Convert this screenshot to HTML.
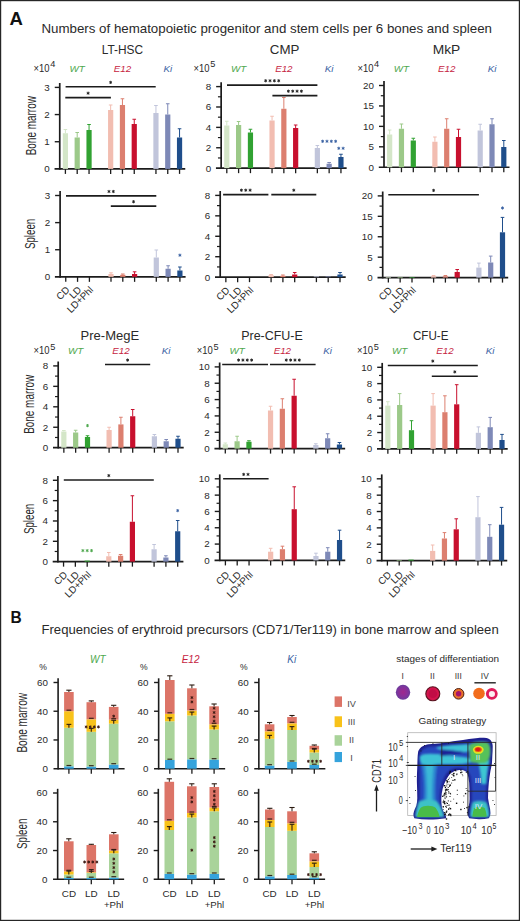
<!DOCTYPE html><html><head><meta charset="utf-8"><style>html,body{margin:0;padding:0;background:#fff;overflow:hidden;}#w{position:relative;width:520px;height:921px;overflow:hidden;background:#fff;}svg{position:absolute;left:0;top:0;}text{font-family:"Liberation Sans", sans-serif;}</style></head><body><div id="w">
<svg width="520" height="921" viewBox="0 0 520 921">
<rect x="0" y="0" width="520" height="921" fill="#fff"/>
<text x="9.4" y="25.1" font-size="17.6" fill="#111" text-anchor="start" font-weight="bold" textLength="13.4" lengthAdjust="spacingAndGlyphs" >A</text>
<text x="41.4" y="33.3" font-size="13.4" fill="#2a2a2a" text-anchor="start" textLength="450.6" lengthAdjust="spacingAndGlyphs" >Numbers of hematopoietic progenitor and stem cells per 6 bones and spleen</text>
<text x="101.7" y="54.0" font-size="12.4" fill="#2a2a2a" text-anchor="start" textLength="41.4" lengthAdjust="spacingAndGlyphs" >LT-HSC</text>
<text x="269.8" y="54.2" font-size="12.4" fill="#2a2a2a" text-anchor="start" textLength="29.6" lengthAdjust="spacingAndGlyphs" >CMP</text>
<text x="432.7" y="54.0" font-size="12.4" fill="#2a2a2a" text-anchor="start" textLength="27.6" lengthAdjust="spacingAndGlyphs" >MkP</text>
<line x1="59.75" y1="83.0" x2="59.75" y2="169.70000000000002" stroke="#1c1c1c" stroke-width="1.7" />
<line x1="54.55" y1="168.9" x2="185.25" y2="168.9" stroke="#1c1c1c" stroke-width="1.7" />
<text x="49.75" y="172.3" font-size="9.8" fill="#2a2a2a" text-anchor="end" >0</text>
<line x1="54.75" y1="141.73333333333335" x2="59.75" y2="141.73333333333335" stroke="#1c1c1c" stroke-width="1.4" />
<text x="49.75" y="145.13333333333335" font-size="9.8" fill="#2a2a2a" text-anchor="end" >1</text>
<line x1="54.75" y1="114.56666666666668" x2="59.75" y2="114.56666666666668" stroke="#1c1c1c" stroke-width="1.4" />
<text x="49.75" y="117.96666666666668" font-size="9.8" fill="#2a2a2a" text-anchor="end" >2</text>
<line x1="54.75" y1="87.4" x2="59.75" y2="87.4" stroke="#1c1c1c" stroke-width="1.4" />
<text x="49.75" y="90.80000000000001" font-size="9.8" fill="#2a2a2a" text-anchor="end" >3</text>
<line x1="65.4" y1="168.9" x2="65.4" y2="173.9" stroke="#1c1c1c" stroke-width="1.3" />
<line x1="77.2" y1="168.9" x2="77.2" y2="173.9" stroke="#1c1c1c" stroke-width="1.3" />
<line x1="89.05" y1="168.9" x2="89.05" y2="173.9" stroke="#1c1c1c" stroke-width="1.3" />
<line x1="110.65" y1="168.9" x2="110.65" y2="173.9" stroke="#1c1c1c" stroke-width="1.3" />
<line x1="122.45" y1="168.9" x2="122.45" y2="173.9" stroke="#1c1c1c" stroke-width="1.3" />
<line x1="134.25" y1="168.9" x2="134.25" y2="173.9" stroke="#1c1c1c" stroke-width="1.3" />
<line x1="155.95" y1="168.9" x2="155.95" y2="173.9" stroke="#1c1c1c" stroke-width="1.3" />
<line x1="167.75" y1="168.9" x2="167.75" y2="173.9" stroke="#1c1c1c" stroke-width="1.3" />
<line x1="179.55" y1="168.9" x2="179.55" y2="173.9" stroke="#1c1c1c" stroke-width="1.3" />
<text x="33.6" y="71.8" font-size="10.0" fill="#2a2a2a" text-anchor="start" textLength="16.0" lengthAdjust="spacingAndGlyphs" >×10</text>
<text x="50.3" y="67.3" font-size="9.2" fill="#2a2a2a" text-anchor="start" >4</text>
<text x="77.2" y="72.0" font-size="9.8" fill="#4ea84e" text-anchor="middle" font-style="italic" >WT</text>
<text x="122.45" y="72.0" font-size="9.8" fill="#c6243f" text-anchor="middle" font-style="italic" >E12</text>
<text x="167.75" y="72.0" font-size="9.8" fill="#3b62a3" text-anchor="middle" font-style="italic" >Ki</text>
<text x="35.8" y="125.7" font-size="14.6" fill="#2a2a2a" text-anchor="middle" textLength="59.2" lengthAdjust="spacingAndGlyphs" transform="rotate(-90 35.8 125.7)">Bone marrow</text>
<line x1="65.4" y1="129.5" x2="65.4" y2="133.25" stroke="#d4e6c8" stroke-width="1.0" />
<line x1="63.60000000000001" y1="129.5" x2="67.2" y2="129.5" stroke="#d4e6c8" stroke-width="1.0" />
<rect x="62.80" y="133.25" width="5.20" height="35.65" fill="#d4e6c8" />
<line x1="77.2" y1="132.5" x2="77.2" y2="137.5" stroke="#9cc989" stroke-width="1.0" />
<line x1="75.4" y1="132.5" x2="79.0" y2="132.5" stroke="#9cc989" stroke-width="1.0" />
<rect x="74.60" y="137.50" width="5.20" height="31.40" fill="#9cc989" />
<line x1="89.05" y1="124.5" x2="89.05" y2="130" stroke="#31a232" stroke-width="1.0" />
<line x1="87.25" y1="124.5" x2="90.85" y2="124.5" stroke="#31a232" stroke-width="1.0" />
<rect x="86.45" y="130.00" width="5.20" height="38.90" fill="#31a232" />
<line x1="110.65" y1="105" x2="110.65" y2="110" stroke="#f2bdb1" stroke-width="1.0" />
<line x1="108.85000000000001" y1="105" x2="112.45" y2="105" stroke="#f2bdb1" stroke-width="1.0" />
<rect x="108.05" y="110.00" width="5.20" height="58.90" fill="#f2bdb1" />
<line x1="122.45" y1="98.75" x2="122.45" y2="105" stroke="#dc7f6f" stroke-width="1.0" />
<line x1="120.65" y1="98.75" x2="124.25" y2="98.75" stroke="#dc7f6f" stroke-width="1.0" />
<rect x="119.85" y="105.00" width="5.20" height="63.90" fill="#dc7f6f" />
<line x1="134.25" y1="119.25" x2="134.25" y2="124" stroke="#c8102e" stroke-width="1.0" />
<line x1="132.45" y1="119.25" x2="136.05" y2="119.25" stroke="#c8102e" stroke-width="1.0" />
<rect x="131.65" y="124.00" width="5.20" height="44.90" fill="#c8102e" />
<line x1="155.95" y1="105.5" x2="155.95" y2="113" stroke="#c1c5db" stroke-width="1.0" />
<line x1="154.14999999999998" y1="105.5" x2="157.75" y2="105.5" stroke="#c1c5db" stroke-width="1.0" />
<rect x="153.35" y="113.00" width="5.20" height="55.90" fill="#c1c5db" />
<line x1="167.75" y1="103.75" x2="167.75" y2="114.5" stroke="#7e89b7" stroke-width="1.0" />
<line x1="165.95" y1="103.75" x2="169.55" y2="103.75" stroke="#7e89b7" stroke-width="1.0" />
<rect x="165.15" y="114.50" width="5.20" height="54.40" fill="#7e89b7" />
<line x1="179.55" y1="128.75" x2="179.55" y2="137.5" stroke="#1f4e8b" stroke-width="1.0" />
<line x1="177.75" y1="128.75" x2="181.35000000000002" y2="128.75" stroke="#1f4e8b" stroke-width="1.0" />
<rect x="176.95" y="137.50" width="5.20" height="31.40" fill="#1f4e8b" />
<line x1="65.6" y1="86.8" x2="155.7" y2="86.8" stroke="#1c1c1c" stroke-width="1.6" />
<path d="M110.65,81.22L110.65,83.58M111.68,81.81L109.62,82.99M111.68,82.99L109.62,81.81" stroke="#222" stroke-width="0.96" stroke-linecap="round"/>
<line x1="65.3" y1="97.6" x2="110.9" y2="97.6" stroke="#1c1c1c" stroke-width="1.6" />
<path d="M88.10,92.02L88.10,94.38M89.13,92.61L87.07,93.79M89.13,93.79L87.07,92.61" stroke="#222" stroke-width="0.96" stroke-linecap="round"/>
<line x1="221.15" y1="82.19999999999999" x2="221.15" y2="168.95000000000002" stroke="#1c1c1c" stroke-width="1.7" />
<line x1="215.95000000000002" y1="168.15" x2="346.65" y2="168.15" stroke="#1c1c1c" stroke-width="1.7" />
<text x="211.15" y="171.55" font-size="9.8" fill="#2a2a2a" text-anchor="end" >0</text>
<line x1="216.15" y1="147.7625" x2="221.15" y2="147.7625" stroke="#1c1c1c" stroke-width="1.4" />
<text x="211.15" y="151.1625" font-size="9.8" fill="#2a2a2a" text-anchor="end" >2</text>
<line x1="216.15" y1="127.375" x2="221.15" y2="127.375" stroke="#1c1c1c" stroke-width="1.4" />
<text x="211.15" y="130.775" font-size="9.8" fill="#2a2a2a" text-anchor="end" >4</text>
<line x1="216.15" y1="106.9875" x2="221.15" y2="106.9875" stroke="#1c1c1c" stroke-width="1.4" />
<text x="211.15" y="110.3875" font-size="9.8" fill="#2a2a2a" text-anchor="end" >6</text>
<line x1="216.15" y1="86.6" x2="221.15" y2="86.6" stroke="#1c1c1c" stroke-width="1.4" />
<text x="211.15" y="90.0" font-size="9.8" fill="#2a2a2a" text-anchor="end" >8</text>
<line x1="217.95000000000002" y1="157.95625" x2="221.15" y2="157.95625" stroke="#1c1c1c" stroke-width="1.2" />
<line x1="217.95000000000002" y1="137.56875" x2="221.15" y2="137.56875" stroke="#1c1c1c" stroke-width="1.2" />
<line x1="217.95000000000002" y1="117.18125" x2="221.15" y2="117.18125" stroke="#1c1c1c" stroke-width="1.2" />
<line x1="217.95000000000002" y1="96.79374999999999" x2="221.15" y2="96.79374999999999" stroke="#1c1c1c" stroke-width="1.2" />
<line x1="226.8" y1="168.15" x2="226.8" y2="173.15" stroke="#1c1c1c" stroke-width="1.3" />
<line x1="238.6" y1="168.15" x2="238.6" y2="173.15" stroke="#1c1c1c" stroke-width="1.3" />
<line x1="250.45000000000002" y1="168.15" x2="250.45000000000002" y2="173.15" stroke="#1c1c1c" stroke-width="1.3" />
<line x1="272.05" y1="168.15" x2="272.05" y2="173.15" stroke="#1c1c1c" stroke-width="1.3" />
<line x1="283.85" y1="168.15" x2="283.85" y2="173.15" stroke="#1c1c1c" stroke-width="1.3" />
<line x1="295.65" y1="168.15" x2="295.65" y2="173.15" stroke="#1c1c1c" stroke-width="1.3" />
<line x1="317.35" y1="168.15" x2="317.35" y2="173.15" stroke="#1c1c1c" stroke-width="1.3" />
<line x1="329.15" y1="168.15" x2="329.15" y2="173.15" stroke="#1c1c1c" stroke-width="1.3" />
<line x1="340.95" y1="168.15" x2="340.95" y2="173.15" stroke="#1c1c1c" stroke-width="1.3" />
<text x="193.6" y="71.8" font-size="10.0" fill="#2a2a2a" text-anchor="start" textLength="16.0" lengthAdjust="spacingAndGlyphs" >×10</text>
<text x="210.29999999999998" y="67.3" font-size="9.2" fill="#2a2a2a" text-anchor="start" >5</text>
<text x="238.6" y="72.0" font-size="9.8" fill="#4ea84e" text-anchor="middle" font-style="italic" >WT</text>
<text x="283.85" y="72.0" font-size="9.8" fill="#c6243f" text-anchor="middle" font-style="italic" >E12</text>
<text x="329.15" y="72.0" font-size="9.8" fill="#3b62a3" text-anchor="middle" font-style="italic" >Ki</text>
<line x1="226.8" y1="121.25" x2="226.8" y2="125.5" stroke="#d4e6c8" stroke-width="1.0" />
<line x1="225.0" y1="121.25" x2="228.60000000000002" y2="121.25" stroke="#d4e6c8" stroke-width="1.0" />
<rect x="224.20" y="125.50" width="5.20" height="42.65" fill="#d4e6c8" />
<line x1="238.6" y1="121.5" x2="238.6" y2="125" stroke="#9cc989" stroke-width="1.0" />
<line x1="236.79999999999998" y1="121.5" x2="240.4" y2="121.5" stroke="#9cc989" stroke-width="1.0" />
<rect x="236.00" y="125.00" width="5.20" height="43.15" fill="#9cc989" />
<line x1="250.45000000000002" y1="129.25" x2="250.45000000000002" y2="132.5" stroke="#31a232" stroke-width="1.0" />
<line x1="248.65" y1="129.25" x2="252.25000000000003" y2="129.25" stroke="#31a232" stroke-width="1.0" />
<rect x="247.85" y="132.50" width="5.20" height="35.65" fill="#31a232" />
<line x1="272.05" y1="116.25" x2="272.05" y2="120.5" stroke="#f2bdb1" stroke-width="1.0" />
<line x1="270.25" y1="116.25" x2="273.85" y2="116.25" stroke="#f2bdb1" stroke-width="1.0" />
<rect x="269.45" y="120.50" width="5.20" height="47.65" fill="#f2bdb1" />
<line x1="283.85" y1="97.5" x2="283.85" y2="108.75" stroke="#dc7f6f" stroke-width="1.0" />
<line x1="282.05" y1="97.5" x2="285.65000000000003" y2="97.5" stroke="#dc7f6f" stroke-width="1.0" />
<rect x="281.25" y="108.75" width="5.20" height="59.40" fill="#dc7f6f" />
<line x1="295.65" y1="125" x2="295.65" y2="128" stroke="#c8102e" stroke-width="1.0" />
<line x1="293.84999999999997" y1="125" x2="297.45" y2="125" stroke="#c8102e" stroke-width="1.0" />
<rect x="293.05" y="128.00" width="5.20" height="40.15" fill="#c8102e" />
<line x1="317.35" y1="145.5" x2="317.35" y2="148" stroke="#c1c5db" stroke-width="1.0" />
<line x1="315.55" y1="145.5" x2="319.15000000000003" y2="145.5" stroke="#c1c5db" stroke-width="1.0" />
<rect x="314.75" y="148.00" width="5.20" height="20.15" fill="#c1c5db" />
<line x1="329.15" y1="162.5" x2="329.15" y2="163.75" stroke="#7e89b7" stroke-width="1.0" />
<line x1="327.34999999999997" y1="162.5" x2="330.95" y2="162.5" stroke="#7e89b7" stroke-width="1.0" />
<rect x="326.55" y="163.75" width="5.20" height="4.40" fill="#7e89b7" />
<line x1="340.95" y1="154.25" x2="340.95" y2="157" stroke="#1f4e8b" stroke-width="1.0" />
<line x1="339.15" y1="154.25" x2="342.75" y2="154.25" stroke="#1f4e8b" stroke-width="1.0" />
<rect x="338.35" y="157.00" width="5.20" height="11.15" fill="#1f4e8b" />
<line x1="227.0" y1="85.15" x2="317.4" y2="85.15" stroke="#1c1c1c" stroke-width="1.6" />
<path d="M265.68,79.57L265.68,81.93M266.70,80.16L264.65,81.34M266.70,81.34L264.65,80.16" stroke="#222" stroke-width="0.96" stroke-linecap="round"/>
<path d="M270.02,79.57L270.02,81.93M271.05,80.16L269.00,81.34M271.05,81.34L269.00,80.16" stroke="#222" stroke-width="0.96" stroke-linecap="round"/>
<path d="M274.38,79.57L274.38,81.93M275.40,80.16L273.35,81.34M275.40,81.34L273.35,80.16" stroke="#222" stroke-width="0.96" stroke-linecap="round"/>
<path d="M278.72,79.57L278.72,81.93M279.75,80.16L277.70,81.34M279.75,81.34L277.70,80.16" stroke="#222" stroke-width="0.96" stroke-linecap="round"/>
<line x1="272.4" y1="95.6" x2="317.4" y2="95.6" stroke="#1c1c1c" stroke-width="1.6" />
<path d="M288.38,90.02L288.38,92.38M289.40,90.61L287.35,91.79M289.40,91.79L287.35,90.61" stroke="#222" stroke-width="0.96" stroke-linecap="round"/>
<path d="M292.72,90.02L292.72,92.38M293.75,90.61L291.70,91.79M293.75,91.79L291.70,90.61" stroke="#222" stroke-width="0.96" stroke-linecap="round"/>
<path d="M297.07,90.02L297.07,92.38M298.10,90.61L296.05,91.79M298.10,91.79L296.05,90.61" stroke="#222" stroke-width="0.96" stroke-linecap="round"/>
<path d="M301.42,90.02L301.42,92.38M302.45,90.61L300.40,91.79M302.45,91.79L300.40,90.61" stroke="#222" stroke-width="0.96" stroke-linecap="round"/>
<path d="M322.62,140.12L322.62,142.48M323.65,140.71L321.60,141.89M323.65,141.89L321.60,140.71" stroke="#3b62a3" stroke-width="0.96" stroke-linecap="round"/>
<path d="M326.97,140.12L326.97,142.48M328.00,140.71L325.95,141.89M328.00,141.89L325.95,140.71" stroke="#3b62a3" stroke-width="0.96" stroke-linecap="round"/>
<path d="M331.32,140.12L331.32,142.48M332.35,140.71L330.30,141.89M332.35,141.89L330.30,140.71" stroke="#3b62a3" stroke-width="0.96" stroke-linecap="round"/>
<path d="M335.67,140.12L335.67,142.48M336.70,140.71L334.65,141.89M336.70,141.89L334.65,140.71" stroke="#3b62a3" stroke-width="0.96" stroke-linecap="round"/>
<path d="M338.77,147.12L338.77,149.48M339.80,147.71L337.75,148.89M339.80,148.89L337.75,147.71" stroke="#3b62a3" stroke-width="0.96" stroke-linecap="round"/>
<path d="M343.12,147.12L343.12,149.48M344.15,147.71L342.10,148.89M344.15,148.89L342.10,147.71" stroke="#3b62a3" stroke-width="0.96" stroke-linecap="round"/>
<line x1="384.0" y1="81.1" x2="384.0" y2="168.05" stroke="#1c1c1c" stroke-width="1.7" />
<line x1="378.8" y1="167.25" x2="509.5" y2="167.25" stroke="#1c1c1c" stroke-width="1.7" />
<text x="374.0" y="170.65" font-size="9.8" fill="#2a2a2a" text-anchor="end" >0</text>
<line x1="379.0" y1="146.8125" x2="384.0" y2="146.8125" stroke="#1c1c1c" stroke-width="1.4" />
<text x="374.0" y="150.2125" font-size="9.8" fill="#2a2a2a" text-anchor="end" >5</text>
<line x1="379.0" y1="126.375" x2="384.0" y2="126.375" stroke="#1c1c1c" stroke-width="1.4" />
<text x="374.0" y="129.775" font-size="9.8" fill="#2a2a2a" text-anchor="end" >10</text>
<line x1="379.0" y1="105.9375" x2="384.0" y2="105.9375" stroke="#1c1c1c" stroke-width="1.4" />
<text x="374.0" y="109.3375" font-size="9.8" fill="#2a2a2a" text-anchor="end" >15</text>
<line x1="379.0" y1="85.5" x2="384.0" y2="85.5" stroke="#1c1c1c" stroke-width="1.4" />
<text x="374.0" y="88.9" font-size="9.8" fill="#2a2a2a" text-anchor="end" >20</text>
<line x1="380.8" y1="157.03125" x2="384.0" y2="157.03125" stroke="#1c1c1c" stroke-width="1.2" />
<line x1="380.8" y1="136.59375" x2="384.0" y2="136.59375" stroke="#1c1c1c" stroke-width="1.2" />
<line x1="380.8" y1="116.15625" x2="384.0" y2="116.15625" stroke="#1c1c1c" stroke-width="1.2" />
<line x1="380.8" y1="95.71875" x2="384.0" y2="95.71875" stroke="#1c1c1c" stroke-width="1.2" />
<line x1="389.65" y1="167.25" x2="389.65" y2="172.25" stroke="#1c1c1c" stroke-width="1.3" />
<line x1="401.45" y1="167.25" x2="401.45" y2="172.25" stroke="#1c1c1c" stroke-width="1.3" />
<line x1="413.3" y1="167.25" x2="413.3" y2="172.25" stroke="#1c1c1c" stroke-width="1.3" />
<line x1="434.9" y1="167.25" x2="434.9" y2="172.25" stroke="#1c1c1c" stroke-width="1.3" />
<line x1="446.7" y1="167.25" x2="446.7" y2="172.25" stroke="#1c1c1c" stroke-width="1.3" />
<line x1="458.5" y1="167.25" x2="458.5" y2="172.25" stroke="#1c1c1c" stroke-width="1.3" />
<line x1="480.2" y1="167.25" x2="480.2" y2="172.25" stroke="#1c1c1c" stroke-width="1.3" />
<line x1="492.0" y1="167.25" x2="492.0" y2="172.25" stroke="#1c1c1c" stroke-width="1.3" />
<line x1="503.8" y1="167.25" x2="503.8" y2="172.25" stroke="#1c1c1c" stroke-width="1.3" />
<text x="357.4" y="71.8" font-size="10.0" fill="#2a2a2a" text-anchor="start" textLength="16.0" lengthAdjust="spacingAndGlyphs" >×10</text>
<text x="374.09999999999997" y="67.3" font-size="9.2" fill="#2a2a2a" text-anchor="start" >4</text>
<text x="401.45" y="72.0" font-size="9.8" fill="#4ea84e" text-anchor="middle" font-style="italic" >WT</text>
<text x="446.7" y="72.0" font-size="9.8" fill="#c6243f" text-anchor="middle" font-style="italic" >E12</text>
<text x="492.0" y="72.0" font-size="9.8" fill="#3b62a3" text-anchor="middle" font-style="italic" >Ki</text>
<line x1="389.65" y1="130" x2="389.65" y2="134.5" stroke="#d4e6c8" stroke-width="1.0" />
<line x1="387.84999999999997" y1="130" x2="391.45" y2="130" stroke="#d4e6c8" stroke-width="1.0" />
<rect x="387.05" y="134.50" width="5.20" height="32.75" fill="#d4e6c8" />
<line x1="401.45" y1="124" x2="401.45" y2="128.75" stroke="#9cc989" stroke-width="1.0" />
<line x1="399.65" y1="124" x2="403.25" y2="124" stroke="#9cc989" stroke-width="1.0" />
<rect x="398.85" y="128.75" width="5.20" height="38.50" fill="#9cc989" />
<line x1="413.3" y1="138.25" x2="413.3" y2="140.5" stroke="#31a232" stroke-width="1.0" />
<line x1="411.5" y1="138.25" x2="415.1" y2="138.25" stroke="#31a232" stroke-width="1.0" />
<rect x="410.70" y="140.50" width="5.20" height="26.75" fill="#31a232" />
<line x1="434.9" y1="137" x2="434.9" y2="141.75" stroke="#f2bdb1" stroke-width="1.0" />
<line x1="433.09999999999997" y1="137" x2="436.7" y2="137" stroke="#f2bdb1" stroke-width="1.0" />
<rect x="432.30" y="141.75" width="5.20" height="25.50" fill="#f2bdb1" />
<line x1="446.7" y1="118.75" x2="446.7" y2="128.75" stroke="#dc7f6f" stroke-width="1.0" />
<line x1="444.9" y1="118.75" x2="448.5" y2="118.75" stroke="#dc7f6f" stroke-width="1.0" />
<rect x="444.10" y="128.75" width="5.20" height="38.50" fill="#dc7f6f" />
<line x1="458.5" y1="129.25" x2="458.5" y2="137" stroke="#c8102e" stroke-width="1.0" />
<line x1="456.7" y1="129.25" x2="460.3" y2="129.25" stroke="#c8102e" stroke-width="1.0" />
<rect x="455.90" y="137.00" width="5.20" height="30.25" fill="#c8102e" />
<line x1="480.2" y1="124.25" x2="480.2" y2="130.5" stroke="#c1c5db" stroke-width="1.0" />
<line x1="478.4" y1="124.25" x2="482.0" y2="124.25" stroke="#c1c5db" stroke-width="1.0" />
<rect x="477.60" y="130.50" width="5.20" height="36.75" fill="#c1c5db" />
<line x1="492.0" y1="118.75" x2="492.0" y2="124.25" stroke="#7e89b7" stroke-width="1.0" />
<line x1="490.2" y1="118.75" x2="493.8" y2="118.75" stroke="#7e89b7" stroke-width="1.0" />
<rect x="489.40" y="124.25" width="5.20" height="43.00" fill="#7e89b7" />
<line x1="503.8" y1="140.5" x2="503.8" y2="147" stroke="#1f4e8b" stroke-width="1.0" />
<line x1="502.0" y1="140.5" x2="505.6" y2="140.5" stroke="#1f4e8b" stroke-width="1.0" />
<rect x="501.20" y="147.00" width="5.20" height="20.25" fill="#1f4e8b" />
<line x1="60.1" y1="191.1" x2="60.1" y2="277.65000000000003" stroke="#1c1c1c" stroke-width="1.7" />
<line x1="54.9" y1="276.85" x2="185.6" y2="276.85" stroke="#1c1c1c" stroke-width="1.7" />
<text x="50.1" y="280.25" font-size="9.8" fill="#2a2a2a" text-anchor="end" >0</text>
<line x1="55.1" y1="249.73333333333335" x2="60.1" y2="249.73333333333335" stroke="#1c1c1c" stroke-width="1.4" />
<text x="50.1" y="253.13333333333335" font-size="9.8" fill="#2a2a2a" text-anchor="end" >1</text>
<line x1="55.1" y1="222.61666666666667" x2="60.1" y2="222.61666666666667" stroke="#1c1c1c" stroke-width="1.4" />
<text x="50.1" y="226.01666666666668" font-size="9.8" fill="#2a2a2a" text-anchor="end" >2</text>
<line x1="55.1" y1="195.5" x2="60.1" y2="195.5" stroke="#1c1c1c" stroke-width="1.4" />
<text x="50.1" y="198.9" font-size="9.8" fill="#2a2a2a" text-anchor="end" >3</text>
<line x1="65.75" y1="276.85" x2="65.75" y2="281.85" stroke="#1c1c1c" stroke-width="1.3" />
<line x1="77.55" y1="276.85" x2="77.55" y2="281.85" stroke="#1c1c1c" stroke-width="1.3" />
<line x1="89.4" y1="276.85" x2="89.4" y2="281.85" stroke="#1c1c1c" stroke-width="1.3" />
<line x1="111.0" y1="276.85" x2="111.0" y2="281.85" stroke="#1c1c1c" stroke-width="1.3" />
<line x1="122.80000000000001" y1="276.85" x2="122.80000000000001" y2="281.85" stroke="#1c1c1c" stroke-width="1.3" />
<line x1="134.6" y1="276.85" x2="134.6" y2="281.85" stroke="#1c1c1c" stroke-width="1.3" />
<line x1="156.3" y1="276.85" x2="156.3" y2="281.85" stroke="#1c1c1c" stroke-width="1.3" />
<line x1="168.1" y1="276.85" x2="168.1" y2="281.85" stroke="#1c1c1c" stroke-width="1.3" />
<line x1="179.9" y1="276.85" x2="179.9" y2="281.85" stroke="#1c1c1c" stroke-width="1.3" />
<text x="35.3" y="233.9" font-size="14.0" fill="#2a2a2a" text-anchor="middle" textLength="30.3" lengthAdjust="spacingAndGlyphs" transform="rotate(-90 35.3 233.9)">Spleen</text>
<line x1="111.0" y1="272.8" x2="111.0" y2="274.0" stroke="#f2bdb1" stroke-width="1.0" />
<line x1="109.2" y1="272.8" x2="112.8" y2="272.8" stroke="#f2bdb1" stroke-width="1.0" />
<rect x="108.40" y="274.00" width="5.20" height="2.85" fill="#f2bdb1" />
<line x1="122.80000000000001" y1="274" x2="122.80000000000001" y2="274.8" stroke="#dc7f6f" stroke-width="1.0" />
<line x1="121.00000000000001" y1="274" x2="124.60000000000001" y2="274" stroke="#dc7f6f" stroke-width="1.0" />
<rect x="120.20" y="274.80" width="5.20" height="2.05" fill="#dc7f6f" />
<line x1="134.6" y1="271.8" x2="134.6" y2="274.0" stroke="#c8102e" stroke-width="1.0" />
<line x1="132.79999999999998" y1="271.8" x2="136.4" y2="271.8" stroke="#c8102e" stroke-width="1.0" />
<rect x="132.00" y="274.00" width="5.20" height="2.85" fill="#c8102e" />
<line x1="156.3" y1="250" x2="156.3" y2="257.5" stroke="#c1c5db" stroke-width="1.0" />
<line x1="154.5" y1="250" x2="158.10000000000002" y2="250" stroke="#c1c5db" stroke-width="1.0" />
<rect x="153.70" y="257.50" width="5.20" height="19.35" fill="#c1c5db" />
<line x1="168.1" y1="265.75" x2="168.1" y2="268.75" stroke="#7e89b7" stroke-width="1.0" />
<line x1="166.29999999999998" y1="265.75" x2="169.9" y2="265.75" stroke="#7e89b7" stroke-width="1.0" />
<rect x="165.50" y="268.75" width="5.20" height="8.10" fill="#7e89b7" />
<line x1="179.9" y1="267" x2="179.9" y2="270.5" stroke="#1f4e8b" stroke-width="1.0" />
<line x1="178.1" y1="267" x2="181.70000000000002" y2="267" stroke="#1f4e8b" stroke-width="1.0" />
<rect x="177.30" y="270.50" width="5.20" height="6.35" fill="#1f4e8b" />
<line x1="66.0" y1="195.9" x2="156.3" y2="195.9" stroke="#1c1c1c" stroke-width="1.6" />
<path d="M108.98,190.32L108.98,192.68M110.00,190.91L107.95,192.09M110.00,192.09L107.95,190.91" stroke="#222" stroke-width="0.96" stroke-linecap="round"/>
<path d="M113.33,190.32L113.33,192.68M114.35,190.91L112.30,192.09M114.35,192.09L112.30,190.91" stroke="#222" stroke-width="0.96" stroke-linecap="round"/>
<line x1="110.8" y1="206.1" x2="156.3" y2="206.1" stroke="#1c1c1c" stroke-width="1.6" />
<path d="M133.55,200.52L133.55,202.88M134.58,201.11L132.52,202.29M134.58,202.29L132.52,201.11" stroke="#222" stroke-width="0.96" stroke-linecap="round"/>
<path d="M179.90,254.02L179.90,256.38M180.93,254.61L178.87,255.79M180.93,255.79L178.87,254.61" stroke="#3b62a3" stroke-width="0.96" stroke-linecap="round"/>
<text x="70.25" y="290.50" font-size="9.8" fill="#2a2a2a" text-anchor="end" transform="rotate(-45 70.25 290.50)">CD</text>
<text x="82.05" y="290.50" font-size="9.8" fill="#2a2a2a" text-anchor="end" transform="rotate(-45 82.05 290.50)">LD</text>
<text x="93.90" y="290.50" font-size="9.8" fill="#2a2a2a" text-anchor="end" transform="rotate(-45 93.90 290.50)">LD+Phl</text>
<line x1="220.2" y1="191.0" x2="220.2" y2="277.95" stroke="#1c1c1c" stroke-width="1.7" />
<line x1="215.0" y1="277.15" x2="345.7" y2="277.15" stroke="#1c1c1c" stroke-width="1.7" />
<text x="210.2" y="280.54999999999995" font-size="9.8" fill="#2a2a2a" text-anchor="end" >0</text>
<line x1="215.2" y1="256.7125" x2="220.2" y2="256.7125" stroke="#1c1c1c" stroke-width="1.4" />
<text x="210.2" y="260.11249999999995" font-size="9.8" fill="#2a2a2a" text-anchor="end" >2</text>
<line x1="215.2" y1="236.27499999999998" x2="220.2" y2="236.27499999999998" stroke="#1c1c1c" stroke-width="1.4" />
<text x="210.2" y="239.67499999999998" font-size="9.8" fill="#2a2a2a" text-anchor="end" >4</text>
<line x1="215.2" y1="215.8375" x2="220.2" y2="215.8375" stroke="#1c1c1c" stroke-width="1.4" />
<text x="210.2" y="219.2375" font-size="9.8" fill="#2a2a2a" text-anchor="end" >6</text>
<line x1="215.2" y1="195.4" x2="220.2" y2="195.4" stroke="#1c1c1c" stroke-width="1.4" />
<text x="210.2" y="198.8" font-size="9.8" fill="#2a2a2a" text-anchor="end" >8</text>
<line x1="217.0" y1="266.93125" x2="220.2" y2="266.93125" stroke="#1c1c1c" stroke-width="1.2" />
<line x1="217.0" y1="246.49374999999998" x2="220.2" y2="246.49374999999998" stroke="#1c1c1c" stroke-width="1.2" />
<line x1="217.0" y1="226.05624999999998" x2="220.2" y2="226.05624999999998" stroke="#1c1c1c" stroke-width="1.2" />
<line x1="217.0" y1="205.61875" x2="220.2" y2="205.61875" stroke="#1c1c1c" stroke-width="1.2" />
<line x1="225.85" y1="277.15" x2="225.85" y2="282.15" stroke="#1c1c1c" stroke-width="1.3" />
<line x1="237.64999999999998" y1="277.15" x2="237.64999999999998" y2="282.15" stroke="#1c1c1c" stroke-width="1.3" />
<line x1="249.5" y1="277.15" x2="249.5" y2="282.15" stroke="#1c1c1c" stroke-width="1.3" />
<line x1="271.09999999999997" y1="277.15" x2="271.09999999999997" y2="282.15" stroke="#1c1c1c" stroke-width="1.3" />
<line x1="282.9" y1="277.15" x2="282.9" y2="282.15" stroke="#1c1c1c" stroke-width="1.3" />
<line x1="294.7" y1="277.15" x2="294.7" y2="282.15" stroke="#1c1c1c" stroke-width="1.3" />
<line x1="316.4" y1="277.15" x2="316.4" y2="282.15" stroke="#1c1c1c" stroke-width="1.3" />
<line x1="328.2" y1="277.15" x2="328.2" y2="282.15" stroke="#1c1c1c" stroke-width="1.3" />
<line x1="340.0" y1="277.15" x2="340.0" y2="282.15" stroke="#1c1c1c" stroke-width="1.3" />
<line x1="271.09999999999997" y1="274.5" x2="271.09999999999997" y2="275.2" stroke="#f2bdb1" stroke-width="1.0" />
<line x1="269.29999999999995" y1="274.5" x2="272.9" y2="274.5" stroke="#f2bdb1" stroke-width="1.0" />
<rect x="268.50" y="275.20" width="5.20" height="1.95" fill="#f2bdb1" />
<line x1="282.9" y1="275" x2="282.9" y2="275.8" stroke="#dc7f6f" stroke-width="1.0" />
<line x1="281.09999999999997" y1="275" x2="284.7" y2="275" stroke="#dc7f6f" stroke-width="1.0" />
<rect x="280.30" y="275.80" width="5.20" height="1.35" fill="#dc7f6f" />
<line x1="294.7" y1="272.5" x2="294.7" y2="274.5" stroke="#c8102e" stroke-width="1.0" />
<line x1="292.9" y1="272.5" x2="296.5" y2="272.5" stroke="#c8102e" stroke-width="1.0" />
<rect x="292.10" y="274.50" width="5.20" height="2.65" fill="#c8102e" />
<rect x="313.80" y="276.40" width="5.20" height="0.75" fill="#c1c5db" />
<rect x="325.60" y="276.50" width="5.20" height="0.65" fill="#7e89b7" />
<line x1="340.0" y1="272.5" x2="340.0" y2="274.5" stroke="#1f4e8b" stroke-width="1.0" />
<line x1="338.2" y1="272.5" x2="341.8" y2="272.5" stroke="#1f4e8b" stroke-width="1.0" />
<rect x="337.40" y="274.50" width="5.20" height="2.65" fill="#1f4e8b" />
<line x1="223.1" y1="194.6" x2="268.4" y2="194.6" stroke="#1c1c1c" stroke-width="1.6" />
<path d="M241.40,189.02L241.40,191.38M242.43,189.61L240.37,190.79M242.43,190.79L240.37,189.61" stroke="#222" stroke-width="0.96" stroke-linecap="round"/>
<path d="M245.75,189.02L245.75,191.38M246.78,189.61L244.72,190.79M246.78,190.79L244.72,189.61" stroke="#222" stroke-width="0.96" stroke-linecap="round"/>
<path d="M250.10,189.02L250.10,191.38M251.13,189.61L249.07,190.79M251.13,190.79L249.07,189.61" stroke="#222" stroke-width="0.96" stroke-linecap="round"/>
<line x1="271.3" y1="194.6" x2="316.3" y2="194.6" stroke="#1c1c1c" stroke-width="1.6" />
<path d="M293.80,189.02L293.80,191.38M294.83,189.61L292.77,190.79M294.83,190.79L292.77,189.61" stroke="#222" stroke-width="0.96" stroke-linecap="round"/>
<text x="230.35" y="290.90" font-size="9.8" fill="#2a2a2a" text-anchor="end" transform="rotate(-45 230.35 290.90)">CD</text>
<text x="242.15" y="290.90" font-size="9.8" fill="#2a2a2a" text-anchor="end" transform="rotate(-45 242.15 290.90)">LD</text>
<text x="254.00" y="290.90" font-size="9.8" fill="#2a2a2a" text-anchor="end" transform="rotate(-45 254.00 290.90)">LD+Phl</text>
<line x1="382.7" y1="191.5" x2="382.7" y2="278.40000000000003" stroke="#1c1c1c" stroke-width="1.7" />
<line x1="377.5" y1="277.6" x2="508.2" y2="277.6" stroke="#1c1c1c" stroke-width="1.7" />
<text x="372.7" y="281.0" font-size="9.8" fill="#2a2a2a" text-anchor="end" >0</text>
<line x1="377.7" y1="257.175" x2="382.7" y2="257.175" stroke="#1c1c1c" stroke-width="1.4" />
<text x="372.7" y="260.575" font-size="9.8" fill="#2a2a2a" text-anchor="end" >5</text>
<line x1="377.7" y1="236.75" x2="382.7" y2="236.75" stroke="#1c1c1c" stroke-width="1.4" />
<text x="372.7" y="240.15" font-size="9.8" fill="#2a2a2a" text-anchor="end" >10</text>
<line x1="377.7" y1="216.32500000000002" x2="382.7" y2="216.32500000000002" stroke="#1c1c1c" stroke-width="1.4" />
<text x="372.7" y="219.72500000000002" font-size="9.8" fill="#2a2a2a" text-anchor="end" >15</text>
<line x1="377.7" y1="195.9" x2="382.7" y2="195.9" stroke="#1c1c1c" stroke-width="1.4" />
<text x="372.7" y="199.3" font-size="9.8" fill="#2a2a2a" text-anchor="end" >20</text>
<line x1="379.5" y1="267.38750000000005" x2="382.7" y2="267.38750000000005" stroke="#1c1c1c" stroke-width="1.2" />
<line x1="379.5" y1="246.9625" x2="382.7" y2="246.9625" stroke="#1c1c1c" stroke-width="1.2" />
<line x1="379.5" y1="226.53750000000002" x2="382.7" y2="226.53750000000002" stroke="#1c1c1c" stroke-width="1.2" />
<line x1="379.5" y1="206.1125" x2="382.7" y2="206.1125" stroke="#1c1c1c" stroke-width="1.2" />
<line x1="388.34999999999997" y1="277.6" x2="388.34999999999997" y2="282.6" stroke="#1c1c1c" stroke-width="1.3" />
<line x1="400.15" y1="277.6" x2="400.15" y2="282.6" stroke="#1c1c1c" stroke-width="1.3" />
<line x1="412.0" y1="277.6" x2="412.0" y2="282.6" stroke="#1c1c1c" stroke-width="1.3" />
<line x1="433.59999999999997" y1="277.6" x2="433.59999999999997" y2="282.6" stroke="#1c1c1c" stroke-width="1.3" />
<line x1="445.4" y1="277.6" x2="445.4" y2="282.6" stroke="#1c1c1c" stroke-width="1.3" />
<line x1="457.2" y1="277.6" x2="457.2" y2="282.6" stroke="#1c1c1c" stroke-width="1.3" />
<line x1="478.9" y1="277.6" x2="478.9" y2="282.6" stroke="#1c1c1c" stroke-width="1.3" />
<line x1="490.7" y1="277.6" x2="490.7" y2="282.6" stroke="#1c1c1c" stroke-width="1.3" />
<line x1="502.5" y1="277.6" x2="502.5" y2="282.6" stroke="#1c1c1c" stroke-width="1.3" />
<rect x="385.75" y="277.00" width="5.20" height="0.60" fill="#d4e6c8" />
<rect x="397.55" y="277.00" width="5.20" height="0.60" fill="#9cc989" />
<rect x="409.40" y="277.00" width="5.20" height="0.60" fill="#31a232" />
<line x1="433.59999999999997" y1="275.5" x2="433.59999999999997" y2="276.3" stroke="#f2bdb1" stroke-width="1.0" />
<line x1="431.79999999999995" y1="275.5" x2="435.4" y2="275.5" stroke="#f2bdb1" stroke-width="1.0" />
<rect x="431.00" y="276.30" width="5.20" height="1.30" fill="#f2bdb1" />
<line x1="445.4" y1="275.5" x2="445.4" y2="276.3" stroke="#dc7f6f" stroke-width="1.0" />
<line x1="443.59999999999997" y1="275.5" x2="447.2" y2="275.5" stroke="#dc7f6f" stroke-width="1.0" />
<rect x="442.80" y="276.30" width="5.20" height="1.30" fill="#dc7f6f" />
<line x1="457.2" y1="269.5" x2="457.2" y2="272.0" stroke="#c8102e" stroke-width="1.0" />
<line x1="455.4" y1="269.5" x2="459.0" y2="269.5" stroke="#c8102e" stroke-width="1.0" />
<rect x="454.60" y="272.00" width="5.20" height="5.60" fill="#c8102e" />
<line x1="478.9" y1="263.1" x2="478.9" y2="267.6" stroke="#c1c5db" stroke-width="1.0" />
<line x1="477.09999999999997" y1="263.1" x2="480.7" y2="263.1" stroke="#c1c5db" stroke-width="1.0" />
<rect x="476.30" y="267.60" width="5.20" height="10.00" fill="#c1c5db" />
<line x1="490.7" y1="256.1" x2="490.7" y2="262.5" stroke="#7e89b7" stroke-width="1.0" />
<line x1="488.9" y1="256.1" x2="492.5" y2="256.1" stroke="#7e89b7" stroke-width="1.0" />
<rect x="488.10" y="262.50" width="5.20" height="15.10" fill="#7e89b7" />
<line x1="502.5" y1="217.4" x2="502.5" y2="232.3" stroke="#1f4e8b" stroke-width="1.0" />
<line x1="500.7" y1="217.4" x2="504.3" y2="217.4" stroke="#1f4e8b" stroke-width="1.0" />
<rect x="499.90" y="232.30" width="5.20" height="45.30" fill="#1f4e8b" />
<line x1="388.3" y1="194.8" x2="478.9" y2="194.8" stroke="#1c1c1c" stroke-width="1.6" />
<path d="M433.60,189.22L433.60,191.58M434.63,189.81L432.57,190.99M434.63,190.99L432.57,189.81" stroke="#222" stroke-width="0.96" stroke-linecap="round"/>
<path d="M502.50,206.82L502.50,209.18M503.53,207.41L501.47,208.59M503.53,208.59L501.47,207.41" stroke="#3b62a3" stroke-width="0.96" stroke-linecap="round"/>
<text x="392.85" y="290.90" font-size="9.8" fill="#2a2a2a" text-anchor="end" transform="rotate(-45 392.85 290.90)">CD</text>
<text x="404.65" y="290.90" font-size="9.8" fill="#2a2a2a" text-anchor="end" transform="rotate(-45 404.65 290.90)">LD</text>
<text x="416.50" y="290.90" font-size="9.8" fill="#2a2a2a" text-anchor="end" transform="rotate(-45 416.50 290.90)">LD+Phl</text>
<text x="80.6" y="340.0" font-size="12.4" fill="#2a2a2a" text-anchor="start" textLength="58.6" lengthAdjust="spacingAndGlyphs" >Pre-MegE</text>
<text x="241.2" y="340.0" font-size="12.4" fill="#2a2a2a" text-anchor="start" textLength="61.6" lengthAdjust="spacingAndGlyphs" >Pre-CFU-E</text>
<text x="413.0" y="340.2" font-size="12.4" fill="#2a2a2a" text-anchor="start" textLength="35.4" lengthAdjust="spacingAndGlyphs" >CFU-E</text>
<line x1="58.2" y1="361.5" x2="58.2" y2="448.5" stroke="#1c1c1c" stroke-width="1.7" />
<line x1="53.0" y1="447.7" x2="183.7" y2="447.7" stroke="#1c1c1c" stroke-width="1.7" />
<text x="48.2" y="451.09999999999997" font-size="9.8" fill="#2a2a2a" text-anchor="end" >0</text>
<line x1="53.2" y1="427.25" x2="58.2" y2="427.25" stroke="#1c1c1c" stroke-width="1.4" />
<text x="48.2" y="430.65" font-size="9.8" fill="#2a2a2a" text-anchor="end" >2</text>
<line x1="53.2" y1="406.79999999999995" x2="58.2" y2="406.79999999999995" stroke="#1c1c1c" stroke-width="1.4" />
<text x="48.2" y="410.19999999999993" font-size="9.8" fill="#2a2a2a" text-anchor="end" >4</text>
<line x1="53.2" y1="386.34999999999997" x2="58.2" y2="386.34999999999997" stroke="#1c1c1c" stroke-width="1.4" />
<text x="48.2" y="389.74999999999994" font-size="9.8" fill="#2a2a2a" text-anchor="end" >6</text>
<line x1="53.2" y1="365.9" x2="58.2" y2="365.9" stroke="#1c1c1c" stroke-width="1.4" />
<text x="48.2" y="369.29999999999995" font-size="9.8" fill="#2a2a2a" text-anchor="end" >8</text>
<line x1="55.0" y1="437.47499999999997" x2="58.2" y2="437.47499999999997" stroke="#1c1c1c" stroke-width="1.2" />
<line x1="55.0" y1="417.025" x2="58.2" y2="417.025" stroke="#1c1c1c" stroke-width="1.2" />
<line x1="55.0" y1="396.575" x2="58.2" y2="396.575" stroke="#1c1c1c" stroke-width="1.2" />
<line x1="55.0" y1="376.125" x2="58.2" y2="376.125" stroke="#1c1c1c" stroke-width="1.2" />
<line x1="63.85" y1="447.7" x2="63.85" y2="452.7" stroke="#1c1c1c" stroke-width="1.3" />
<line x1="75.65" y1="447.7" x2="75.65" y2="452.7" stroke="#1c1c1c" stroke-width="1.3" />
<line x1="87.5" y1="447.7" x2="87.5" y2="452.7" stroke="#1c1c1c" stroke-width="1.3" />
<line x1="109.1" y1="447.7" x2="109.1" y2="452.7" stroke="#1c1c1c" stroke-width="1.3" />
<line x1="120.9" y1="447.7" x2="120.9" y2="452.7" stroke="#1c1c1c" stroke-width="1.3" />
<line x1="132.7" y1="447.7" x2="132.7" y2="452.7" stroke="#1c1c1c" stroke-width="1.3" />
<line x1="154.4" y1="447.7" x2="154.4" y2="452.7" stroke="#1c1c1c" stroke-width="1.3" />
<line x1="166.2" y1="447.7" x2="166.2" y2="452.7" stroke="#1c1c1c" stroke-width="1.3" />
<line x1="178.0" y1="447.7" x2="178.0" y2="452.7" stroke="#1c1c1c" stroke-width="1.3" />
<text x="33.6" y="354.1" font-size="10.0" fill="#2a2a2a" text-anchor="start" textLength="16.0" lengthAdjust="spacingAndGlyphs" >×10</text>
<text x="50.3" y="349.6" font-size="9.2" fill="#2a2a2a" text-anchor="start" >5</text>
<text x="75.65" y="354.0" font-size="9.8" fill="#4ea84e" text-anchor="middle" font-style="italic" >WT</text>
<text x="120.9" y="354.0" font-size="9.8" fill="#c6243f" text-anchor="middle" font-style="italic" >E12</text>
<text x="166.2" y="354.0" font-size="9.8" fill="#3b62a3" text-anchor="middle" font-style="italic" >Ki</text>
<text x="34.3" y="404.3" font-size="14.6" fill="#2a2a2a" text-anchor="middle" textLength="59.1" lengthAdjust="spacingAndGlyphs" transform="rotate(-90 34.3 404.3)">Bone marrow</text>
<line x1="63.85" y1="430.5" x2="63.85" y2="431.5" stroke="#d4e6c8" stroke-width="1.0" />
<line x1="62.050000000000004" y1="430.5" x2="65.65" y2="430.5" stroke="#d4e6c8" stroke-width="1.0" />
<rect x="61.25" y="431.50" width="5.20" height="16.20" fill="#d4e6c8" />
<line x1="75.65" y1="430.25" x2="75.65" y2="432.5" stroke="#9cc989" stroke-width="1.0" />
<line x1="73.85000000000001" y1="430.25" x2="77.45" y2="430.25" stroke="#9cc989" stroke-width="1.0" />
<rect x="73.05" y="432.50" width="5.20" height="15.20" fill="#9cc989" />
<line x1="87.5" y1="435.75" x2="87.5" y2="437" stroke="#31a232" stroke-width="1.0" />
<line x1="85.7" y1="435.75" x2="89.3" y2="435.75" stroke="#31a232" stroke-width="1.0" />
<rect x="84.90" y="437.00" width="5.20" height="10.70" fill="#31a232" />
<line x1="109.1" y1="427.25" x2="109.1" y2="430" stroke="#f2bdb1" stroke-width="1.0" />
<line x1="107.3" y1="427.25" x2="110.89999999999999" y2="427.25" stroke="#f2bdb1" stroke-width="1.0" />
<rect x="106.50" y="430.00" width="5.20" height="17.70" fill="#f2bdb1" />
<line x1="120.9" y1="417.25" x2="120.9" y2="424.4" stroke="#dc7f6f" stroke-width="1.0" />
<line x1="119.10000000000001" y1="417.25" x2="122.7" y2="417.25" stroke="#dc7f6f" stroke-width="1.0" />
<rect x="118.30" y="424.40" width="5.20" height="23.30" fill="#dc7f6f" />
<line x1="132.7" y1="409.5" x2="132.7" y2="416.25" stroke="#c8102e" stroke-width="1.0" />
<line x1="130.89999999999998" y1="409.5" x2="134.5" y2="409.5" stroke="#c8102e" stroke-width="1.0" />
<rect x="130.10" y="416.25" width="5.20" height="31.45" fill="#c8102e" />
<line x1="154.4" y1="434.5" x2="154.4" y2="436.25" stroke="#c1c5db" stroke-width="1.0" />
<line x1="152.6" y1="434.5" x2="156.20000000000002" y2="434.5" stroke="#c1c5db" stroke-width="1.0" />
<rect x="151.80" y="436.25" width="5.20" height="11.45" fill="#c1c5db" />
<line x1="166.2" y1="439.5" x2="166.2" y2="441.25" stroke="#7e89b7" stroke-width="1.0" />
<line x1="164.39999999999998" y1="439.5" x2="168.0" y2="439.5" stroke="#7e89b7" stroke-width="1.0" />
<rect x="163.60" y="441.25" width="5.20" height="6.45" fill="#7e89b7" />
<line x1="178.0" y1="436.25" x2="178.0" y2="438.75" stroke="#1f4e8b" stroke-width="1.0" />
<line x1="176.2" y1="436.25" x2="179.8" y2="436.25" stroke="#1f4e8b" stroke-width="1.0" />
<rect x="175.40" y="438.75" width="5.20" height="8.95" fill="#1f4e8b" />
<line x1="105.0" y1="364.5" x2="150.2" y2="364.5" stroke="#1c1c1c" stroke-width="1.6" />
<path d="M127.60,358.92L127.60,361.28M128.63,359.51L126.57,360.69M128.63,360.69L126.57,359.51" stroke="#222" stroke-width="0.96" stroke-linecap="round"/>
<path d="M87.50,424.42L87.50,426.78M88.53,425.01L86.47,426.19M88.53,426.19L86.47,425.01" stroke="#4ea84e" stroke-width="0.96" stroke-linecap="round"/>
<line x1="219.65" y1="362.5" x2="219.65" y2="449.40000000000003" stroke="#1c1c1c" stroke-width="1.7" />
<line x1="214.45000000000002" y1="448.6" x2="345.15" y2="448.6" stroke="#1c1c1c" stroke-width="1.7" />
<text x="209.65" y="452.0" font-size="9.8" fill="#2a2a2a" text-anchor="end" >0</text>
<line x1="214.65" y1="432.26" x2="219.65" y2="432.26" stroke="#1c1c1c" stroke-width="1.4" />
<text x="209.65" y="435.65999999999997" font-size="9.8" fill="#2a2a2a" text-anchor="end" >2</text>
<line x1="214.65" y1="415.92" x2="219.65" y2="415.92" stroke="#1c1c1c" stroke-width="1.4" />
<text x="209.65" y="419.32" font-size="9.8" fill="#2a2a2a" text-anchor="end" >4</text>
<line x1="214.65" y1="399.58" x2="219.65" y2="399.58" stroke="#1c1c1c" stroke-width="1.4" />
<text x="209.65" y="402.97999999999996" font-size="9.8" fill="#2a2a2a" text-anchor="end" >6</text>
<line x1="214.65" y1="383.24" x2="219.65" y2="383.24" stroke="#1c1c1c" stroke-width="1.4" />
<text x="209.65" y="386.64" font-size="9.8" fill="#2a2a2a" text-anchor="end" >8</text>
<line x1="214.65" y1="366.9" x2="219.65" y2="366.9" stroke="#1c1c1c" stroke-width="1.4" />
<text x="209.65" y="370.29999999999995" font-size="9.8" fill="#2a2a2a" text-anchor="end" >10</text>
<line x1="216.45000000000002" y1="440.43" x2="219.65" y2="440.43" stroke="#1c1c1c" stroke-width="1.2" />
<line x1="216.45000000000002" y1="424.09000000000003" x2="219.65" y2="424.09000000000003" stroke="#1c1c1c" stroke-width="1.2" />
<line x1="216.45000000000002" y1="407.75" x2="219.65" y2="407.75" stroke="#1c1c1c" stroke-width="1.2" />
<line x1="216.45000000000002" y1="391.40999999999997" x2="219.65" y2="391.40999999999997" stroke="#1c1c1c" stroke-width="1.2" />
<line x1="216.45000000000002" y1="375.07" x2="219.65" y2="375.07" stroke="#1c1c1c" stroke-width="1.2" />
<line x1="225.3" y1="448.6" x2="225.3" y2="453.6" stroke="#1c1c1c" stroke-width="1.3" />
<line x1="237.1" y1="448.6" x2="237.1" y2="453.6" stroke="#1c1c1c" stroke-width="1.3" />
<line x1="248.95000000000002" y1="448.6" x2="248.95000000000002" y2="453.6" stroke="#1c1c1c" stroke-width="1.3" />
<line x1="270.55" y1="448.6" x2="270.55" y2="453.6" stroke="#1c1c1c" stroke-width="1.3" />
<line x1="282.35" y1="448.6" x2="282.35" y2="453.6" stroke="#1c1c1c" stroke-width="1.3" />
<line x1="294.15" y1="448.6" x2="294.15" y2="453.6" stroke="#1c1c1c" stroke-width="1.3" />
<line x1="315.85" y1="448.6" x2="315.85" y2="453.6" stroke="#1c1c1c" stroke-width="1.3" />
<line x1="327.65" y1="448.6" x2="327.65" y2="453.6" stroke="#1c1c1c" stroke-width="1.3" />
<line x1="339.45" y1="448.6" x2="339.45" y2="453.6" stroke="#1c1c1c" stroke-width="1.3" />
<text x="196.8" y="354.1" font-size="10.0" fill="#2a2a2a" text-anchor="start" textLength="16.0" lengthAdjust="spacingAndGlyphs" >×10</text>
<text x="213.5" y="349.6" font-size="9.2" fill="#2a2a2a" text-anchor="start" >5</text>
<text x="237.1" y="354.0" font-size="9.8" fill="#4ea84e" text-anchor="middle" font-style="italic" >WT</text>
<text x="282.35" y="354.0" font-size="9.8" fill="#c6243f" text-anchor="middle" font-style="italic" >E12</text>
<text x="327.65" y="354.0" font-size="9.8" fill="#3b62a3" text-anchor="middle" font-style="italic" >Ki</text>
<line x1="225.3" y1="443" x2="225.3" y2="444.25" stroke="#d4e6c8" stroke-width="1.0" />
<line x1="223.5" y1="443" x2="227.10000000000002" y2="443" stroke="#d4e6c8" stroke-width="1.0" />
<rect x="222.70" y="444.25" width="5.20" height="4.35" fill="#d4e6c8" />
<line x1="237.1" y1="436.25" x2="237.1" y2="441.25" stroke="#9cc989" stroke-width="1.0" />
<line x1="235.29999999999998" y1="436.25" x2="238.9" y2="436.25" stroke="#9cc989" stroke-width="1.0" />
<rect x="234.50" y="441.25" width="5.20" height="7.35" fill="#9cc989" />
<line x1="248.95000000000002" y1="440.75" x2="248.95000000000002" y2="441.75" stroke="#31a232" stroke-width="1.0" />
<line x1="247.15" y1="440.75" x2="250.75000000000003" y2="440.75" stroke="#31a232" stroke-width="1.0" />
<rect x="246.35" y="441.75" width="5.20" height="6.85" fill="#31a232" />
<line x1="270.55" y1="406.25" x2="270.55" y2="410.5" stroke="#f2bdb1" stroke-width="1.0" />
<line x1="268.75" y1="406.25" x2="272.35" y2="406.25" stroke="#f2bdb1" stroke-width="1.0" />
<rect x="267.95" y="410.50" width="5.20" height="38.10" fill="#f2bdb1" />
<line x1="282.35" y1="398.75" x2="282.35" y2="408.75" stroke="#dc7f6f" stroke-width="1.0" />
<line x1="280.55" y1="398.75" x2="284.15000000000003" y2="398.75" stroke="#dc7f6f" stroke-width="1.0" />
<rect x="279.75" y="408.75" width="5.20" height="39.85" fill="#dc7f6f" />
<line x1="294.15" y1="379.25" x2="294.15" y2="395.75" stroke="#c8102e" stroke-width="1.0" />
<line x1="292.34999999999997" y1="379.25" x2="295.95" y2="379.25" stroke="#c8102e" stroke-width="1.0" />
<rect x="291.55" y="395.75" width="5.20" height="52.85" fill="#c8102e" />
<line x1="315.85" y1="443.75" x2="315.85" y2="445" stroke="#c1c5db" stroke-width="1.0" />
<line x1="314.05" y1="443.75" x2="317.65000000000003" y2="443.75" stroke="#c1c5db" stroke-width="1.0" />
<rect x="313.25" y="445.00" width="5.20" height="3.60" fill="#c1c5db" />
<line x1="327.65" y1="433.75" x2="327.65" y2="438.25" stroke="#7e89b7" stroke-width="1.0" />
<line x1="325.84999999999997" y1="433.75" x2="329.45" y2="433.75" stroke="#7e89b7" stroke-width="1.0" />
<rect x="325.05" y="438.25" width="5.20" height="10.35" fill="#7e89b7" />
<line x1="339.45" y1="442.5" x2="339.45" y2="444.5" stroke="#1f4e8b" stroke-width="1.0" />
<line x1="337.65" y1="442.5" x2="341.25" y2="442.5" stroke="#1f4e8b" stroke-width="1.0" />
<rect x="336.85" y="444.50" width="5.20" height="4.10" fill="#1f4e8b" />
<line x1="222.2" y1="364.5" x2="268.0" y2="364.5" stroke="#1c1c1c" stroke-width="1.6" />
<path d="M238.57,358.92L238.57,361.28M239.60,359.51L237.55,360.69M239.60,360.69L237.55,359.51" stroke="#222" stroke-width="0.96" stroke-linecap="round"/>
<path d="M242.92,358.92L242.92,361.28M243.95,359.51L241.90,360.69M243.95,360.69L241.90,359.51" stroke="#222" stroke-width="0.96" stroke-linecap="round"/>
<path d="M247.28,358.92L247.28,361.28M248.30,359.51L246.25,360.69M248.30,360.69L246.25,359.51" stroke="#222" stroke-width="0.96" stroke-linecap="round"/>
<path d="M251.62,358.92L251.62,361.28M252.65,359.51L250.60,360.69M252.65,360.69L250.60,359.51" stroke="#222" stroke-width="0.96" stroke-linecap="round"/>
<line x1="270.0" y1="364.5" x2="315.6" y2="364.5" stroke="#1c1c1c" stroke-width="1.6" />
<path d="M286.28,358.92L286.28,361.28M287.30,359.51L285.25,360.69M287.30,360.69L285.25,359.51" stroke="#222" stroke-width="0.96" stroke-linecap="round"/>
<path d="M290.62,358.92L290.62,361.28M291.65,359.51L289.60,360.69M291.65,360.69L289.60,359.51" stroke="#222" stroke-width="0.96" stroke-linecap="round"/>
<path d="M294.98,358.92L294.98,361.28M296.00,359.51L293.95,360.69M296.00,360.69L293.95,359.51" stroke="#222" stroke-width="0.96" stroke-linecap="round"/>
<path d="M299.32,358.92L299.32,361.28M300.35,359.51L298.30,360.69M300.35,360.69L298.30,359.51" stroke="#222" stroke-width="0.96" stroke-linecap="round"/>
<line x1="382.2" y1="362.90000000000003" x2="382.2" y2="449.65000000000003" stroke="#1c1c1c" stroke-width="1.7" />
<line x1="377.0" y1="448.85" x2="507.7" y2="448.85" stroke="#1c1c1c" stroke-width="1.7" />
<text x="372.2" y="452.25" font-size="9.8" fill="#2a2a2a" text-anchor="end" >0</text>
<line x1="377.2" y1="432.54" x2="382.2" y2="432.54" stroke="#1c1c1c" stroke-width="1.4" />
<text x="372.2" y="435.94" font-size="9.8" fill="#2a2a2a" text-anchor="end" >2</text>
<line x1="377.2" y1="416.23" x2="382.2" y2="416.23" stroke="#1c1c1c" stroke-width="1.4" />
<text x="372.2" y="419.63" font-size="9.8" fill="#2a2a2a" text-anchor="end" >4</text>
<line x1="377.2" y1="399.92" x2="382.2" y2="399.92" stroke="#1c1c1c" stroke-width="1.4" />
<text x="372.2" y="403.32" font-size="9.8" fill="#2a2a2a" text-anchor="end" >6</text>
<line x1="377.2" y1="383.61" x2="382.2" y2="383.61" stroke="#1c1c1c" stroke-width="1.4" />
<text x="372.2" y="387.01" font-size="9.8" fill="#2a2a2a" text-anchor="end" >8</text>
<line x1="377.2" y1="367.3" x2="382.2" y2="367.3" stroke="#1c1c1c" stroke-width="1.4" />
<text x="372.2" y="370.7" font-size="9.8" fill="#2a2a2a" text-anchor="end" >10</text>
<line x1="379.0" y1="440.69500000000005" x2="382.2" y2="440.69500000000005" stroke="#1c1c1c" stroke-width="1.2" />
<line x1="379.0" y1="424.385" x2="382.2" y2="424.385" stroke="#1c1c1c" stroke-width="1.2" />
<line x1="379.0" y1="408.07500000000005" x2="382.2" y2="408.07500000000005" stroke="#1c1c1c" stroke-width="1.2" />
<line x1="379.0" y1="391.76500000000004" x2="382.2" y2="391.76500000000004" stroke="#1c1c1c" stroke-width="1.2" />
<line x1="379.0" y1="375.45500000000004" x2="382.2" y2="375.45500000000004" stroke="#1c1c1c" stroke-width="1.2" />
<line x1="387.84999999999997" y1="448.85" x2="387.84999999999997" y2="453.85" stroke="#1c1c1c" stroke-width="1.3" />
<line x1="399.65" y1="448.85" x2="399.65" y2="453.85" stroke="#1c1c1c" stroke-width="1.3" />
<line x1="411.5" y1="448.85" x2="411.5" y2="453.85" stroke="#1c1c1c" stroke-width="1.3" />
<line x1="433.09999999999997" y1="448.85" x2="433.09999999999997" y2="453.85" stroke="#1c1c1c" stroke-width="1.3" />
<line x1="444.9" y1="448.85" x2="444.9" y2="453.85" stroke="#1c1c1c" stroke-width="1.3" />
<line x1="456.7" y1="448.85" x2="456.7" y2="453.85" stroke="#1c1c1c" stroke-width="1.3" />
<line x1="478.4" y1="448.85" x2="478.4" y2="453.85" stroke="#1c1c1c" stroke-width="1.3" />
<line x1="490.2" y1="448.85" x2="490.2" y2="453.85" stroke="#1c1c1c" stroke-width="1.3" />
<line x1="502.0" y1="448.85" x2="502.0" y2="453.85" stroke="#1c1c1c" stroke-width="1.3" />
<text x="357.0" y="354.1" font-size="10.0" fill="#2a2a2a" text-anchor="start" textLength="16.0" lengthAdjust="spacingAndGlyphs" >×10</text>
<text x="373.7" y="349.6" font-size="9.2" fill="#2a2a2a" text-anchor="start" >5</text>
<text x="399.65" y="354.0" font-size="9.8" fill="#4ea84e" text-anchor="middle" font-style="italic" >WT</text>
<text x="444.9" y="354.0" font-size="9.8" fill="#c6243f" text-anchor="middle" font-style="italic" >E12</text>
<text x="490.2" y="354.0" font-size="9.8" fill="#3b62a3" text-anchor="middle" font-style="italic" >Ki</text>
<line x1="387.84999999999997" y1="401.7" x2="387.84999999999997" y2="405.6" stroke="#d4e6c8" stroke-width="1.0" />
<line x1="386.04999999999995" y1="401.7" x2="389.65" y2="401.7" stroke="#d4e6c8" stroke-width="1.0" />
<rect x="385.25" y="405.60" width="5.20" height="43.25" fill="#d4e6c8" />
<line x1="399.65" y1="393.6" x2="399.65" y2="405" stroke="#9cc989" stroke-width="1.0" />
<line x1="397.84999999999997" y1="393.6" x2="401.45" y2="393.6" stroke="#9cc989" stroke-width="1.0" />
<rect x="397.05" y="405.00" width="5.20" height="43.85" fill="#9cc989" />
<line x1="411.5" y1="420.7" x2="411.5" y2="430.2" stroke="#31a232" stroke-width="1.0" />
<line x1="409.7" y1="420.7" x2="413.3" y2="420.7" stroke="#31a232" stroke-width="1.0" />
<rect x="408.90" y="430.20" width="5.20" height="18.65" fill="#31a232" />
<line x1="433.09999999999997" y1="393.6" x2="433.09999999999997" y2="405.6" stroke="#f2bdb1" stroke-width="1.0" />
<line x1="431.29999999999995" y1="393.6" x2="434.9" y2="393.6" stroke="#f2bdb1" stroke-width="1.0" />
<rect x="430.50" y="405.60" width="5.20" height="43.25" fill="#f2bdb1" />
<line x1="444.9" y1="395.8" x2="444.9" y2="412.2" stroke="#dc7f6f" stroke-width="1.0" />
<line x1="443.09999999999997" y1="395.8" x2="446.7" y2="395.8" stroke="#dc7f6f" stroke-width="1.0" />
<rect x="442.30" y="412.20" width="5.20" height="36.65" fill="#dc7f6f" />
<line x1="456.7" y1="384.7" x2="456.7" y2="404.3" stroke="#c8102e" stroke-width="1.0" />
<line x1="454.9" y1="384.7" x2="458.5" y2="384.7" stroke="#c8102e" stroke-width="1.0" />
<rect x="454.10" y="404.30" width="5.20" height="44.55" fill="#c8102e" />
<line x1="478.4" y1="426.9" x2="478.4" y2="432.8" stroke="#c1c5db" stroke-width="1.0" />
<line x1="476.59999999999997" y1="426.9" x2="480.2" y2="426.9" stroke="#c1c5db" stroke-width="1.0" />
<rect x="475.80" y="432.80" width="5.20" height="16.05" fill="#c1c5db" />
<line x1="490.2" y1="417.4" x2="490.2" y2="427.2" stroke="#7e89b7" stroke-width="1.0" />
<line x1="488.4" y1="417.4" x2="492.0" y2="417.4" stroke="#7e89b7" stroke-width="1.0" />
<rect x="487.60" y="427.20" width="5.20" height="21.65" fill="#7e89b7" />
<line x1="502.0" y1="434.4" x2="502.0" y2="440" stroke="#1f4e8b" stroke-width="1.0" />
<line x1="500.2" y1="434.4" x2="503.8" y2="434.4" stroke="#1f4e8b" stroke-width="1.0" />
<rect x="499.40" y="440.00" width="5.20" height="8.85" fill="#1f4e8b" />
<line x1="387.8" y1="365.5" x2="477.8" y2="365.5" stroke="#1c1c1c" stroke-width="1.6" />
<path d="M432.80,359.92L432.80,362.28M433.83,360.51L431.77,361.69M433.83,361.69L431.77,360.51" stroke="#222" stroke-width="0.96" stroke-linecap="round"/>
<line x1="431.8" y1="376.3" x2="477.8" y2="376.3" stroke="#1c1c1c" stroke-width="1.6" />
<path d="M454.80,370.72L454.80,373.08M455.83,371.31L453.77,372.49M455.83,372.49L453.77,371.31" stroke="#222" stroke-width="0.96" stroke-linecap="round"/>
<line x1="57.9" y1="475.90000000000003" x2="57.9" y2="562.4499999999999" stroke="#1c1c1c" stroke-width="1.7" />
<line x1="52.699999999999996" y1="561.65" x2="183.4" y2="561.65" stroke="#1c1c1c" stroke-width="1.7" />
<text x="47.9" y="565.05" font-size="9.8" fill="#2a2a2a" text-anchor="end" >0</text>
<line x1="52.9" y1="541.3125" x2="57.9" y2="541.3125" stroke="#1c1c1c" stroke-width="1.4" />
<text x="47.9" y="544.7125" font-size="9.8" fill="#2a2a2a" text-anchor="end" >2</text>
<line x1="52.9" y1="520.975" x2="57.9" y2="520.975" stroke="#1c1c1c" stroke-width="1.4" />
<text x="47.9" y="524.375" font-size="9.8" fill="#2a2a2a" text-anchor="end" >4</text>
<line x1="52.9" y1="500.6375" x2="57.9" y2="500.6375" stroke="#1c1c1c" stroke-width="1.4" />
<text x="47.9" y="504.03749999999997" font-size="9.8" fill="#2a2a2a" text-anchor="end" >6</text>
<line x1="52.9" y1="480.3" x2="57.9" y2="480.3" stroke="#1c1c1c" stroke-width="1.4" />
<text x="47.9" y="483.7" font-size="9.8" fill="#2a2a2a" text-anchor="end" >8</text>
<line x1="54.699999999999996" y1="551.4812499999999" x2="57.9" y2="551.4812499999999" stroke="#1c1c1c" stroke-width="1.2" />
<line x1="54.699999999999996" y1="531.14375" x2="57.9" y2="531.14375" stroke="#1c1c1c" stroke-width="1.2" />
<line x1="54.699999999999996" y1="510.80625" x2="57.9" y2="510.80625" stroke="#1c1c1c" stroke-width="1.2" />
<line x1="54.699999999999996" y1="490.46875" x2="57.9" y2="490.46875" stroke="#1c1c1c" stroke-width="1.2" />
<line x1="63.55" y1="561.65" x2="63.55" y2="566.65" stroke="#1c1c1c" stroke-width="1.3" />
<line x1="75.35" y1="561.65" x2="75.35" y2="566.65" stroke="#1c1c1c" stroke-width="1.3" />
<line x1="87.2" y1="561.65" x2="87.2" y2="566.65" stroke="#1c1c1c" stroke-width="1.3" />
<line x1="108.8" y1="561.65" x2="108.8" y2="566.65" stroke="#1c1c1c" stroke-width="1.3" />
<line x1="120.6" y1="561.65" x2="120.6" y2="566.65" stroke="#1c1c1c" stroke-width="1.3" />
<line x1="132.4" y1="561.65" x2="132.4" y2="566.65" stroke="#1c1c1c" stroke-width="1.3" />
<line x1="154.1" y1="561.65" x2="154.1" y2="566.65" stroke="#1c1c1c" stroke-width="1.3" />
<line x1="165.9" y1="561.65" x2="165.9" y2="566.65" stroke="#1c1c1c" stroke-width="1.3" />
<line x1="177.7" y1="561.65" x2="177.7" y2="566.65" stroke="#1c1c1c" stroke-width="1.3" />
<text x="34.0" y="518.9" font-size="14.0" fill="#2a2a2a" text-anchor="middle" textLength="30.3" lengthAdjust="spacingAndGlyphs" transform="rotate(-90 34.0 518.9)">Spleen</text>
<rect x="84.60" y="560.60" width="5.20" height="1.05" fill="#31a232" />
<line x1="108.8" y1="552.5" x2="108.8" y2="556.25" stroke="#f2bdb1" stroke-width="1.0" />
<line x1="107.0" y1="552.5" x2="110.6" y2="552.5" stroke="#f2bdb1" stroke-width="1.0" />
<rect x="106.20" y="556.25" width="5.20" height="5.40" fill="#f2bdb1" />
<line x1="120.6" y1="554.5" x2="120.6" y2="555.75" stroke="#dc7f6f" stroke-width="1.0" />
<line x1="118.8" y1="554.5" x2="122.39999999999999" y2="554.5" stroke="#dc7f6f" stroke-width="1.0" />
<rect x="118.00" y="555.75" width="5.20" height="5.90" fill="#dc7f6f" />
<line x1="132.4" y1="495.75" x2="132.4" y2="521.75" stroke="#c8102e" stroke-width="1.0" />
<line x1="130.6" y1="495.75" x2="134.20000000000002" y2="495.75" stroke="#c8102e" stroke-width="1.0" />
<rect x="129.80" y="521.75" width="5.20" height="39.90" fill="#c8102e" />
<line x1="154.1" y1="544.5" x2="154.1" y2="549.25" stroke="#c1c5db" stroke-width="1.0" />
<line x1="152.29999999999998" y1="544.5" x2="155.9" y2="544.5" stroke="#c1c5db" stroke-width="1.0" />
<rect x="151.50" y="549.25" width="5.20" height="12.40" fill="#c1c5db" />
<line x1="165.9" y1="555.75" x2="165.9" y2="557.5" stroke="#7e89b7" stroke-width="1.0" />
<line x1="164.1" y1="555.75" x2="167.70000000000002" y2="555.75" stroke="#7e89b7" stroke-width="1.0" />
<rect x="163.30" y="557.50" width="5.20" height="4.15" fill="#7e89b7" />
<line x1="177.7" y1="520.5" x2="177.7" y2="531.25" stroke="#1f4e8b" stroke-width="1.0" />
<line x1="175.89999999999998" y1="520.5" x2="179.5" y2="520.5" stroke="#1f4e8b" stroke-width="1.0" />
<rect x="175.10" y="531.25" width="5.20" height="30.40" fill="#1f4e8b" />
<line x1="63.8" y1="480.0" x2="153.8" y2="480.0" stroke="#1c1c1c" stroke-width="1.6" />
<path d="M108.80,474.42L108.80,476.78M109.83,475.01L107.77,476.19M109.83,476.19L107.77,475.01" stroke="#222" stroke-width="0.96" stroke-linecap="round"/>
<path d="M82.85,549.42L82.85,551.78M83.88,550.01L81.82,551.19M83.88,551.19L81.82,550.01" stroke="#4ea84e" stroke-width="0.96" stroke-linecap="round"/>
<path d="M87.20,549.42L87.20,551.78M88.23,550.01L86.17,551.19M88.23,551.19L86.17,550.01" stroke="#4ea84e" stroke-width="0.96" stroke-linecap="round"/>
<path d="M91.55,549.42L91.55,551.78M92.58,550.01L90.52,551.19M92.58,551.19L90.52,550.01" stroke="#4ea84e" stroke-width="0.96" stroke-linecap="round"/>
<path d="M177.70,509.42L177.70,511.78M178.73,510.01L176.67,511.19M178.73,511.19L176.67,510.01" stroke="#3b62a3" stroke-width="0.96" stroke-linecap="round"/>
<text x="68.05" y="575.40" font-size="9.8" fill="#2a2a2a" text-anchor="end" transform="rotate(-45 68.05 575.40)">CD</text>
<text x="79.85" y="575.40" font-size="9.8" fill="#2a2a2a" text-anchor="end" transform="rotate(-45 79.85 575.40)">LD</text>
<text x="91.70" y="575.40" font-size="9.8" fill="#2a2a2a" text-anchor="end" transform="rotate(-45 91.70 575.40)">LD+Phl</text>
<line x1="219.75" y1="474.40000000000003" x2="219.75" y2="561.1999999999999" stroke="#1c1c1c" stroke-width="1.7" />
<line x1="214.55" y1="560.4" x2="345.25" y2="560.4" stroke="#1c1c1c" stroke-width="1.7" />
<text x="209.75" y="563.8" font-size="9.8" fill="#2a2a2a" text-anchor="end" >0</text>
<line x1="214.75" y1="544.0799999999999" x2="219.75" y2="544.0799999999999" stroke="#1c1c1c" stroke-width="1.4" />
<text x="209.75" y="547.4799999999999" font-size="9.8" fill="#2a2a2a" text-anchor="end" >2</text>
<line x1="214.75" y1="527.76" x2="219.75" y2="527.76" stroke="#1c1c1c" stroke-width="1.4" />
<text x="209.75" y="531.16" font-size="9.8" fill="#2a2a2a" text-anchor="end" >4</text>
<line x1="214.75" y1="511.44" x2="219.75" y2="511.44" stroke="#1c1c1c" stroke-width="1.4" />
<text x="209.75" y="514.84" font-size="9.8" fill="#2a2a2a" text-anchor="end" >6</text>
<line x1="214.75" y1="495.12" x2="219.75" y2="495.12" stroke="#1c1c1c" stroke-width="1.4" />
<text x="209.75" y="498.52" font-size="9.8" fill="#2a2a2a" text-anchor="end" >8</text>
<line x1="214.75" y1="478.8" x2="219.75" y2="478.8" stroke="#1c1c1c" stroke-width="1.4" />
<text x="209.75" y="482.2" font-size="9.8" fill="#2a2a2a" text-anchor="end" >10</text>
<line x1="216.55" y1="552.24" x2="219.75" y2="552.24" stroke="#1c1c1c" stroke-width="1.2" />
<line x1="216.55" y1="535.92" x2="219.75" y2="535.92" stroke="#1c1c1c" stroke-width="1.2" />
<line x1="216.55" y1="519.6" x2="219.75" y2="519.6" stroke="#1c1c1c" stroke-width="1.2" />
<line x1="216.55" y1="503.28000000000003" x2="219.75" y2="503.28000000000003" stroke="#1c1c1c" stroke-width="1.2" />
<line x1="216.55" y1="486.96000000000004" x2="219.75" y2="486.96000000000004" stroke="#1c1c1c" stroke-width="1.2" />
<line x1="225.4" y1="560.4" x2="225.4" y2="565.4" stroke="#1c1c1c" stroke-width="1.3" />
<line x1="237.2" y1="560.4" x2="237.2" y2="565.4" stroke="#1c1c1c" stroke-width="1.3" />
<line x1="249.05" y1="560.4" x2="249.05" y2="565.4" stroke="#1c1c1c" stroke-width="1.3" />
<line x1="270.65" y1="560.4" x2="270.65" y2="565.4" stroke="#1c1c1c" stroke-width="1.3" />
<line x1="282.45" y1="560.4" x2="282.45" y2="565.4" stroke="#1c1c1c" stroke-width="1.3" />
<line x1="294.25" y1="560.4" x2="294.25" y2="565.4" stroke="#1c1c1c" stroke-width="1.3" />
<line x1="315.95" y1="560.4" x2="315.95" y2="565.4" stroke="#1c1c1c" stroke-width="1.3" />
<line x1="327.75" y1="560.4" x2="327.75" y2="565.4" stroke="#1c1c1c" stroke-width="1.3" />
<line x1="339.55" y1="560.4" x2="339.55" y2="565.4" stroke="#1c1c1c" stroke-width="1.3" />
<line x1="270.65" y1="548.3" x2="270.65" y2="551.7" stroke="#f2bdb1" stroke-width="1.0" />
<line x1="268.84999999999997" y1="548.3" x2="272.45" y2="548.3" stroke="#f2bdb1" stroke-width="1.0" />
<rect x="268.05" y="551.70" width="5.20" height="8.70" fill="#f2bdb1" />
<line x1="282.45" y1="546.2" x2="282.45" y2="549.2" stroke="#dc7f6f" stroke-width="1.0" />
<line x1="280.65" y1="546.2" x2="284.25" y2="546.2" stroke="#dc7f6f" stroke-width="1.0" />
<rect x="279.85" y="549.20" width="5.20" height="11.20" fill="#dc7f6f" />
<line x1="294.25" y1="486.8" x2="294.25" y2="509.2" stroke="#c8102e" stroke-width="1.0" />
<line x1="292.45" y1="486.8" x2="296.05" y2="486.8" stroke="#c8102e" stroke-width="1.0" />
<rect x="291.65" y="509.20" width="5.20" height="51.20" fill="#c8102e" />
<line x1="315.95" y1="553.2" x2="315.95" y2="556" stroke="#c1c5db" stroke-width="1.0" />
<line x1="314.15" y1="553.2" x2="317.75" y2="553.2" stroke="#c1c5db" stroke-width="1.0" />
<rect x="313.35" y="556.00" width="5.20" height="4.40" fill="#c1c5db" />
<line x1="327.75" y1="547.7" x2="327.75" y2="551.7" stroke="#7e89b7" stroke-width="1.0" />
<line x1="325.95" y1="547.7" x2="329.55" y2="547.7" stroke="#7e89b7" stroke-width="1.0" />
<rect x="325.15" y="551.70" width="5.20" height="8.70" fill="#7e89b7" />
<line x1="339.55" y1="530.2" x2="339.55" y2="540" stroke="#1f4e8b" stroke-width="1.0" />
<line x1="337.75" y1="530.2" x2="341.35" y2="530.2" stroke="#1f4e8b" stroke-width="1.0" />
<rect x="336.95" y="540.00" width="5.20" height="20.40" fill="#1f4e8b" />
<line x1="223.1" y1="478.8" x2="268.6" y2="478.8" stroke="#1c1c1c" stroke-width="1.6" />
<path d="M243.68,473.22L243.68,475.58M244.70,473.81L242.65,474.99M244.70,474.99L242.65,473.81" stroke="#222" stroke-width="0.96" stroke-linecap="round"/>
<path d="M248.03,473.22L248.03,475.58M249.05,473.81L247.00,474.99M249.05,474.99L247.00,473.81" stroke="#222" stroke-width="0.96" stroke-linecap="round"/>
<text x="229.90" y="575.40" font-size="9.8" fill="#2a2a2a" text-anchor="end" transform="rotate(-45 229.90 575.40)">CD</text>
<text x="241.70" y="575.40" font-size="9.8" fill="#2a2a2a" text-anchor="end" transform="rotate(-45 241.70 575.40)">LD</text>
<text x="253.55" y="575.40" font-size="9.8" fill="#2a2a2a" text-anchor="end" transform="rotate(-45 253.55 575.40)">LD+Phl</text>
<line x1="381.75" y1="474.40000000000003" x2="381.75" y2="561.4" stroke="#1c1c1c" stroke-width="1.7" />
<line x1="376.55" y1="560.6" x2="507.25" y2="560.6" stroke="#1c1c1c" stroke-width="1.7" />
<text x="371.75" y="564.0" font-size="9.8" fill="#2a2a2a" text-anchor="end" >0</text>
<line x1="376.75" y1="544.24" x2="381.75" y2="544.24" stroke="#1c1c1c" stroke-width="1.4" />
<text x="371.75" y="547.64" font-size="9.8" fill="#2a2a2a" text-anchor="end" >2</text>
<line x1="376.75" y1="527.88" x2="381.75" y2="527.88" stroke="#1c1c1c" stroke-width="1.4" />
<text x="371.75" y="531.28" font-size="9.8" fill="#2a2a2a" text-anchor="end" >4</text>
<line x1="376.75" y1="511.52000000000004" x2="381.75" y2="511.52000000000004" stroke="#1c1c1c" stroke-width="1.4" />
<text x="371.75" y="514.9200000000001" font-size="9.8" fill="#2a2a2a" text-anchor="end" >6</text>
<line x1="376.75" y1="495.16" x2="381.75" y2="495.16" stroke="#1c1c1c" stroke-width="1.4" />
<text x="371.75" y="498.56" font-size="9.8" fill="#2a2a2a" text-anchor="end" >8</text>
<line x1="376.75" y1="478.8" x2="381.75" y2="478.8" stroke="#1c1c1c" stroke-width="1.4" />
<text x="371.75" y="482.2" font-size="9.8" fill="#2a2a2a" text-anchor="end" >10</text>
<line x1="378.55" y1="552.4200000000001" x2="381.75" y2="552.4200000000001" stroke="#1c1c1c" stroke-width="1.2" />
<line x1="378.55" y1="536.0600000000001" x2="381.75" y2="536.0600000000001" stroke="#1c1c1c" stroke-width="1.2" />
<line x1="378.55" y1="519.7" x2="381.75" y2="519.7" stroke="#1c1c1c" stroke-width="1.2" />
<line x1="378.55" y1="503.34000000000003" x2="381.75" y2="503.34000000000003" stroke="#1c1c1c" stroke-width="1.2" />
<line x1="378.55" y1="486.98" x2="381.75" y2="486.98" stroke="#1c1c1c" stroke-width="1.2" />
<line x1="387.4" y1="560.6" x2="387.4" y2="565.6" stroke="#1c1c1c" stroke-width="1.3" />
<line x1="399.2" y1="560.6" x2="399.2" y2="565.6" stroke="#1c1c1c" stroke-width="1.3" />
<line x1="411.05" y1="560.6" x2="411.05" y2="565.6" stroke="#1c1c1c" stroke-width="1.3" />
<line x1="432.65" y1="560.6" x2="432.65" y2="565.6" stroke="#1c1c1c" stroke-width="1.3" />
<line x1="444.45" y1="560.6" x2="444.45" y2="565.6" stroke="#1c1c1c" stroke-width="1.3" />
<line x1="456.25" y1="560.6" x2="456.25" y2="565.6" stroke="#1c1c1c" stroke-width="1.3" />
<line x1="477.95" y1="560.6" x2="477.95" y2="565.6" stroke="#1c1c1c" stroke-width="1.3" />
<line x1="489.75" y1="560.6" x2="489.75" y2="565.6" stroke="#1c1c1c" stroke-width="1.3" />
<line x1="501.55" y1="560.6" x2="501.55" y2="565.6" stroke="#1c1c1c" stroke-width="1.3" />
<rect x="396.60" y="560.00" width="5.20" height="0.60" fill="#9cc989" />
<rect x="408.45" y="559.60" width="5.20" height="1.00" fill="#31a232" />
<line x1="432.65" y1="545" x2="432.65" y2="550.9" stroke="#f2bdb1" stroke-width="1.0" />
<line x1="430.84999999999997" y1="545" x2="434.45" y2="545" stroke="#f2bdb1" stroke-width="1.0" />
<rect x="430.05" y="550.90" width="5.20" height="9.70" fill="#f2bdb1" />
<line x1="444.45" y1="532.6" x2="444.45" y2="538.5" stroke="#dc7f6f" stroke-width="1.0" />
<line x1="442.65" y1="532.6" x2="446.25" y2="532.6" stroke="#dc7f6f" stroke-width="1.0" />
<rect x="441.85" y="538.50" width="5.20" height="22.10" fill="#dc7f6f" />
<line x1="456.25" y1="518.8" x2="456.25" y2="529.3" stroke="#c8102e" stroke-width="1.0" />
<line x1="454.45" y1="518.8" x2="458.05" y2="518.8" stroke="#c8102e" stroke-width="1.0" />
<rect x="453.65" y="529.30" width="5.20" height="31.30" fill="#c8102e" />
<line x1="477.95" y1="496.6" x2="477.95" y2="517.2" stroke="#c1c5db" stroke-width="1.0" />
<line x1="476.15" y1="496.6" x2="479.75" y2="496.6" stroke="#c1c5db" stroke-width="1.0" />
<rect x="475.35" y="517.20" width="5.20" height="43.40" fill="#c1c5db" />
<line x1="489.75" y1="524.7" x2="489.75" y2="536.8" stroke="#7e89b7" stroke-width="1.0" />
<line x1="487.95" y1="524.7" x2="491.55" y2="524.7" stroke="#7e89b7" stroke-width="1.0" />
<rect x="487.15" y="536.80" width="5.20" height="23.80" fill="#7e89b7" />
<line x1="501.55" y1="507.4" x2="501.55" y2="524.7" stroke="#1f4e8b" stroke-width="1.0" />
<line x1="499.75" y1="507.4" x2="503.35" y2="507.4" stroke="#1f4e8b" stroke-width="1.0" />
<rect x="498.95" y="524.70" width="5.20" height="35.90" fill="#1f4e8b" />
<text x="391.90" y="575.40" font-size="9.8" fill="#2a2a2a" text-anchor="end" transform="rotate(-45 391.90 575.40)">CD</text>
<text x="403.70" y="575.40" font-size="9.8" fill="#2a2a2a" text-anchor="end" transform="rotate(-45 403.70 575.40)">LD</text>
<text x="415.55" y="575.40" font-size="9.8" fill="#2a2a2a" text-anchor="end" transform="rotate(-45 415.55 575.40)">LD+Phl</text>
<text x="10.4" y="623.2" font-size="15.6" fill="#111" text-anchor="start" font-weight="bold" textLength="11.2" lengthAdjust="spacingAndGlyphs" >B</text>
<text x="41.5" y="633.8" font-size="12.6" fill="#2a2a2a" text-anchor="start" textLength="457.2" lengthAdjust="spacingAndGlyphs" >Frequencies of erythroid precursors (CD71/Ter119) in bone marrow and spleen</text>
<line x1="58.1" y1="678.3" x2="58.1" y2="769.4000000000001" stroke="#1c1c1c" stroke-width="1.6" />
<text x="47.900000000000006" y="772.1" font-size="9.8" fill="#2a2a2a" text-anchor="end" >0</text>
<line x1="53.5" y1="739.9666666666667" x2="58.1" y2="739.9666666666667" stroke="#1c1c1c" stroke-width="1.4" />
<text x="47.900000000000006" y="743.3666666666667" font-size="9.8" fill="#2a2a2a" text-anchor="end" >20</text>
<line x1="53.5" y1="711.2333333333333" x2="58.1" y2="711.2333333333333" stroke="#1c1c1c" stroke-width="1.4" />
<text x="47.900000000000006" y="714.6333333333333" font-size="9.8" fill="#2a2a2a" text-anchor="end" >40</text>
<line x1="53.5" y1="682.5" x2="58.1" y2="682.5" stroke="#1c1c1c" stroke-width="1.4" />
<text x="47.900000000000006" y="685.9" font-size="9.8" fill="#2a2a2a" text-anchor="end" >60</text>
<line x1="53.5" y1="768.7" x2="124.6" y2="768.7" stroke="#1c1c1c" stroke-width="1.6" />
<line x1="68.9" y1="768.7" x2="68.9" y2="773.7" stroke="#1c1c1c" stroke-width="1.3" />
<rect x="64.10" y="766.30" width="9.60" height="2.40" fill="#35a3dc" />
<rect x="64.10" y="727.80" width="9.60" height="38.50" fill="#a9d39a" />
<rect x="64.10" y="711.20" width="9.60" height="16.60" fill="#f8c21a" />
<rect x="64.10" y="692.00" width="9.60" height="19.20" fill="#dc7467" />
<line x1="66.5" y1="765.5" x2="71.30000000000001" y2="765.5" stroke="#2a1a10" stroke-width="1.2" opacity="0.9"/>
<line x1="68.9" y1="724.4" x2="68.9" y2="727.8" stroke="#2a1a10" stroke-width="1.2" opacity="0.9"/>
<line x1="66.5" y1="724.4" x2="71.30000000000001" y2="724.4" stroke="#2a1a10" stroke-width="1.2" opacity="0.9"/>
<line x1="66.5" y1="710.2" x2="71.30000000000001" y2="710.2" stroke="#2a1a10" stroke-width="1.2" opacity="0.9"/>
<line x1="68.9" y1="690.2" x2="68.9" y2="692.0" stroke="#2a1a10" stroke-width="1.0" />
<line x1="66.30000000000001" y1="690.2" x2="71.5" y2="690.2" stroke="#2a1a10" stroke-width="1.1" />
<line x1="91.3" y1="768.7" x2="91.3" y2="773.7" stroke="#1c1c1c" stroke-width="1.3" />
<rect x="86.50" y="766.50" width="9.60" height="2.20" fill="#35a3dc" />
<rect x="86.50" y="731.80" width="9.60" height="34.70" fill="#a9d39a" />
<rect x="86.50" y="719.30" width="9.60" height="12.50" fill="#f8c21a" />
<rect x="86.50" y="702.20" width="9.60" height="17.10" fill="#dc7467" />
<line x1="88.89999999999999" y1="765.7" x2="93.7" y2="765.7" stroke="#2a1a10" stroke-width="1.2" opacity="0.9"/>
<line x1="91.3" y1="728.4" x2="91.3" y2="731.8" stroke="#2a1a10" stroke-width="1.2" opacity="0.9"/>
<line x1="88.89999999999999" y1="728.4" x2="93.7" y2="728.4" stroke="#2a1a10" stroke-width="1.2" opacity="0.9"/>
<line x1="88.89999999999999" y1="718.3" x2="93.7" y2="718.3" stroke="#2a1a10" stroke-width="1.2" opacity="0.9"/>
<line x1="91.3" y1="700.9" x2="91.3" y2="702.2" stroke="#2a1a10" stroke-width="1.0" />
<line x1="88.7" y1="700.9" x2="93.89999999999999" y2="700.9" stroke="#2a1a10" stroke-width="1.1" />
<path d="M86.15,725.78L86.15,728.02M87.12,726.34L85.18,727.46M87.12,727.46L85.18,726.34" stroke="#3a1812" stroke-width="0.91" stroke-linecap="round"/>
<path d="M90.25,725.78L90.25,728.02M91.22,726.34L89.28,727.46M91.22,727.46L89.28,726.34" stroke="#3a1812" stroke-width="0.91" stroke-linecap="round"/>
<path d="M94.35,725.78L94.35,728.02M95.32,726.34L93.38,727.46M95.32,727.46L93.38,726.34" stroke="#3a1812" stroke-width="0.91" stroke-linecap="round"/>
<path d="M98.45,725.78L98.45,728.02M99.42,726.34L97.48,727.46M99.42,727.46L97.48,726.34" stroke="#3a1812" stroke-width="0.91" stroke-linecap="round"/>
<line x1="113.7" y1="768.7" x2="113.7" y2="773.7" stroke="#1c1c1c" stroke-width="1.3" />
<rect x="108.90" y="764.50" width="9.60" height="4.20" fill="#35a3dc" />
<rect x="108.90" y="723.70" width="9.60" height="40.80" fill="#a9d39a" />
<rect x="108.90" y="719.70" width="9.60" height="4.00" fill="#f8c21a" />
<rect x="108.90" y="706.90" width="9.60" height="12.80" fill="#dc7467" />
<line x1="111.3" y1="763.7" x2="116.10000000000001" y2="763.7" stroke="#2a1a10" stroke-width="1.2" opacity="0.9"/>
<line x1="113.7" y1="720.3000000000001" x2="113.7" y2="723.7" stroke="#2a1a10" stroke-width="1.2" opacity="0.9"/>
<line x1="111.3" y1="720.3000000000001" x2="116.10000000000001" y2="720.3000000000001" stroke="#2a1a10" stroke-width="1.2" opacity="0.9"/>
<line x1="111.3" y1="718.7" x2="116.10000000000001" y2="718.7" stroke="#2a1a10" stroke-width="1.2" opacity="0.9"/>
<line x1="113.7" y1="705.3" x2="113.7" y2="706.9" stroke="#2a1a10" stroke-width="1.0" />
<line x1="111.10000000000001" y1="705.3" x2="116.3" y2="705.3" stroke="#2a1a10" stroke-width="1.1" />
<path d="M113.70,715.08L113.70,717.32M114.67,715.64L112.73,716.76M114.67,716.76L112.73,715.64" stroke="#3a1812" stroke-width="0.91" stroke-linecap="round"/>
<line x1="158.65" y1="678.3" x2="158.65" y2="769.4000000000001" stroke="#1c1c1c" stroke-width="1.6" />
<text x="148.45000000000002" y="772.1" font-size="9.8" fill="#2a2a2a" text-anchor="end" >0</text>
<line x1="154.05" y1="739.9666666666667" x2="158.65" y2="739.9666666666667" stroke="#1c1c1c" stroke-width="1.4" />
<text x="148.45000000000002" y="743.3666666666667" font-size="9.8" fill="#2a2a2a" text-anchor="end" >20</text>
<line x1="154.05" y1="711.2333333333333" x2="158.65" y2="711.2333333333333" stroke="#1c1c1c" stroke-width="1.4" />
<text x="148.45000000000002" y="714.6333333333333" font-size="9.8" fill="#2a2a2a" text-anchor="end" >40</text>
<line x1="154.05" y1="682.5" x2="158.65" y2="682.5" stroke="#1c1c1c" stroke-width="1.4" />
<text x="148.45000000000002" y="685.9" font-size="9.8" fill="#2a2a2a" text-anchor="end" >60</text>
<line x1="154.05" y1="768.7" x2="225.15" y2="768.7" stroke="#1c1c1c" stroke-width="1.6" />
<line x1="169.8" y1="768.7" x2="169.8" y2="773.7" stroke="#1c1c1c" stroke-width="1.3" />
<rect x="165.00" y="760.00" width="9.60" height="8.70" fill="#35a3dc" />
<rect x="165.00" y="721.30" width="9.60" height="38.70" fill="#a9d39a" />
<rect x="165.00" y="713.80" width="9.60" height="7.50" fill="#f8c21a" />
<rect x="165.00" y="680.00" width="9.60" height="33.80" fill="#dc7467" />
<line x1="167.4" y1="759.2" x2="172.20000000000002" y2="759.2" stroke="#2a1a10" stroke-width="1.2" opacity="0.9"/>
<line x1="169.8" y1="717.9" x2="169.8" y2="721.3" stroke="#2a1a10" stroke-width="1.2" opacity="0.9"/>
<line x1="167.4" y1="717.9" x2="172.20000000000002" y2="717.9" stroke="#2a1a10" stroke-width="1.2" opacity="0.9"/>
<line x1="167.4" y1="712.8" x2="172.20000000000002" y2="712.8" stroke="#2a1a10" stroke-width="1.2" opacity="0.9"/>
<line x1="169.8" y1="675.8" x2="169.8" y2="680.0" stroke="#2a1a10" stroke-width="1.0" />
<line x1="167.20000000000002" y1="675.8" x2="172.4" y2="675.8" stroke="#2a1a10" stroke-width="1.1" />
<line x1="191.9" y1="768.7" x2="191.9" y2="773.7" stroke="#1c1c1c" stroke-width="1.3" />
<rect x="187.10" y="759.30" width="9.60" height="9.40" fill="#35a3dc" />
<rect x="187.10" y="715.50" width="9.60" height="43.80" fill="#a9d39a" />
<rect x="187.10" y="710.50" width="9.60" height="5.00" fill="#f8c21a" />
<rect x="187.10" y="688.30" width="9.60" height="22.20" fill="#dc7467" />
<line x1="189.5" y1="758.5" x2="194.3" y2="758.5" stroke="#2a1a10" stroke-width="1.2" opacity="0.9"/>
<line x1="191.9" y1="712.1" x2="191.9" y2="715.5" stroke="#2a1a10" stroke-width="1.2" opacity="0.9"/>
<line x1="189.5" y1="712.1" x2="194.3" y2="712.1" stroke="#2a1a10" stroke-width="1.2" opacity="0.9"/>
<line x1="189.5" y1="709.5" x2="194.3" y2="709.5" stroke="#2a1a10" stroke-width="1.2" opacity="0.9"/>
<line x1="191.9" y1="685.0" x2="191.9" y2="688.3" stroke="#2a1a10" stroke-width="1.0" />
<line x1="189.3" y1="685.0" x2="194.5" y2="685.0" stroke="#2a1a10" stroke-width="1.1" />
<path d="M191.90,696.48L191.90,698.72M192.87,697.04L190.93,698.16M192.87,698.16L190.93,697.04" stroke="#3a1812" stroke-width="0.91" stroke-linecap="round"/>
<path d="M191.90,700.78L191.90,703.02M192.87,701.34L190.93,702.46M192.87,702.46L190.93,701.34" stroke="#3a1812" stroke-width="0.91" stroke-linecap="round"/>
<line x1="214.1" y1="768.7" x2="214.1" y2="773.7" stroke="#1c1c1c" stroke-width="1.3" />
<rect x="209.30" y="759.50" width="9.60" height="9.20" fill="#35a3dc" />
<rect x="209.30" y="729.50" width="9.60" height="30.00" fill="#a9d39a" />
<rect x="209.30" y="724.30" width="9.60" height="5.20" fill="#f8c21a" />
<rect x="209.30" y="706.30" width="9.60" height="18.00" fill="#dc7467" />
<line x1="211.7" y1="758.7" x2="216.5" y2="758.7" stroke="#2a1a10" stroke-width="1.2" opacity="0.9"/>
<line x1="214.1" y1="726.1" x2="214.1" y2="729.5" stroke="#2a1a10" stroke-width="1.2" opacity="0.9"/>
<line x1="211.7" y1="726.1" x2="216.5" y2="726.1" stroke="#2a1a10" stroke-width="1.2" opacity="0.9"/>
<line x1="211.7" y1="723.3" x2="216.5" y2="723.3" stroke="#2a1a10" stroke-width="1.2" opacity="0.9"/>
<line x1="214.1" y1="704.0" x2="214.1" y2="706.3" stroke="#2a1a10" stroke-width="1.0" />
<line x1="211.5" y1="704.0" x2="216.7" y2="704.0" stroke="#2a1a10" stroke-width="1.1" />
<path d="M214.10,707.08L214.10,709.32M215.07,707.64L213.13,708.76M215.07,708.76L213.13,707.64" stroke="#3a1812" stroke-width="0.91" stroke-linecap="round"/>
<path d="M214.10,711.38L214.10,713.62M215.07,711.94L213.13,713.06M215.07,713.06L213.13,711.94" stroke="#3a1812" stroke-width="0.91" stroke-linecap="round"/>
<path d="M214.10,715.68L214.10,717.92M215.07,716.24L213.13,717.36M215.07,717.36L213.13,716.24" stroke="#3a1812" stroke-width="0.91" stroke-linecap="round"/>
<path d="M214.10,719.98L214.10,722.22M215.07,720.54L213.13,721.66M215.07,721.66L213.13,720.54" stroke="#3a1812" stroke-width="0.91" stroke-linecap="round"/>
<line x1="258.85" y1="678.3" x2="258.85" y2="769.4000000000001" stroke="#1c1c1c" stroke-width="1.6" />
<text x="248.65000000000003" y="772.1" font-size="9.8" fill="#2a2a2a" text-anchor="end" >0</text>
<line x1="254.25000000000003" y1="739.9666666666667" x2="258.85" y2="739.9666666666667" stroke="#1c1c1c" stroke-width="1.4" />
<text x="248.65000000000003" y="743.3666666666667" font-size="9.8" fill="#2a2a2a" text-anchor="end" >20</text>
<line x1="254.25000000000003" y1="711.2333333333333" x2="258.85" y2="711.2333333333333" stroke="#1c1c1c" stroke-width="1.4" />
<text x="248.65000000000003" y="714.6333333333333" font-size="9.8" fill="#2a2a2a" text-anchor="end" >40</text>
<line x1="254.25000000000003" y1="682.5" x2="258.85" y2="682.5" stroke="#1c1c1c" stroke-width="1.4" />
<text x="248.65000000000003" y="685.9" font-size="9.8" fill="#2a2a2a" text-anchor="end" >60</text>
<line x1="254.25000000000003" y1="768.7" x2="325.35" y2="768.7" stroke="#1c1c1c" stroke-width="1.6" />
<line x1="269.6" y1="768.7" x2="269.6" y2="773.7" stroke="#1c1c1c" stroke-width="1.3" />
<rect x="264.80" y="765.50" width="9.60" height="3.20" fill="#35a3dc" />
<rect x="264.80" y="738.80" width="9.60" height="26.70" fill="#a9d39a" />
<rect x="264.80" y="731.30" width="9.60" height="7.50" fill="#f8c21a" />
<rect x="264.80" y="724.30" width="9.60" height="7.00" fill="#dc7467" />
<line x1="267.20000000000005" y1="764.7" x2="272.0" y2="764.7" stroke="#2a1a10" stroke-width="1.2" opacity="0.9"/>
<line x1="269.6" y1="735.4" x2="269.6" y2="738.8" stroke="#2a1a10" stroke-width="1.2" opacity="0.9"/>
<line x1="267.20000000000005" y1="735.4" x2="272.0" y2="735.4" stroke="#2a1a10" stroke-width="1.2" opacity="0.9"/>
<line x1="267.20000000000005" y1="730.3" x2="272.0" y2="730.3" stroke="#2a1a10" stroke-width="1.2" opacity="0.9"/>
<line x1="269.6" y1="722.5" x2="269.6" y2="724.3" stroke="#2a1a10" stroke-width="1.0" />
<line x1="267.0" y1="722.5" x2="272.20000000000005" y2="722.5" stroke="#2a1a10" stroke-width="1.1" />
<line x1="292.0" y1="768.7" x2="292.0" y2="773.7" stroke="#1c1c1c" stroke-width="1.3" />
<rect x="287.20" y="761.80" width="9.60" height="6.90" fill="#35a3dc" />
<rect x="287.20" y="730.00" width="9.60" height="31.80" fill="#a9d39a" />
<rect x="287.20" y="723.30" width="9.60" height="6.70" fill="#f8c21a" />
<rect x="287.20" y="717.00" width="9.60" height="6.30" fill="#dc7467" />
<line x1="289.6" y1="761.0" x2="294.4" y2="761.0" stroke="#2a1a10" stroke-width="1.2" opacity="0.9"/>
<line x1="292.0" y1="726.6" x2="292.0" y2="730.0" stroke="#2a1a10" stroke-width="1.2" opacity="0.9"/>
<line x1="289.6" y1="726.6" x2="294.4" y2="726.6" stroke="#2a1a10" stroke-width="1.2" opacity="0.9"/>
<line x1="289.6" y1="722.3" x2="294.4" y2="722.3" stroke="#2a1a10" stroke-width="1.2" opacity="0.9"/>
<line x1="292.0" y1="715.5" x2="292.0" y2="717.0" stroke="#2a1a10" stroke-width="1.0" />
<line x1="289.4" y1="715.5" x2="294.6" y2="715.5" stroke="#2a1a10" stroke-width="1.1" />
<line x1="314.3" y1="768.7" x2="314.3" y2="773.7" stroke="#1c1c1c" stroke-width="1.3" />
<rect x="309.50" y="765.00" width="9.60" height="3.70" fill="#35a3dc" />
<rect x="309.50" y="752.50" width="9.60" height="12.50" fill="#a9d39a" />
<rect x="309.50" y="749.50" width="9.60" height="3.00" fill="#f8c21a" />
<rect x="309.50" y="745.80" width="9.60" height="3.70" fill="#dc7467" />
<line x1="311.90000000000003" y1="764.2" x2="316.7" y2="764.2" stroke="#2a1a10" stroke-width="1.2" opacity="0.9"/>
<line x1="314.3" y1="749.1" x2="314.3" y2="752.5" stroke="#2a1a10" stroke-width="1.2" opacity="0.9"/>
<line x1="311.90000000000003" y1="749.1" x2="316.7" y2="749.1" stroke="#2a1a10" stroke-width="1.2" opacity="0.9"/>
<line x1="311.90000000000003" y1="748.5" x2="316.7" y2="748.5" stroke="#2a1a10" stroke-width="1.2" opacity="0.9"/>
<line x1="314.3" y1="745.0" x2="314.3" y2="745.8" stroke="#2a1a10" stroke-width="1.0" />
<line x1="311.7" y1="745.0" x2="316.90000000000003" y2="745.0" stroke="#2a1a10" stroke-width="1.1" />
<path d="M308.35,760.18L308.35,762.42M309.32,760.74L307.38,761.86M309.32,761.86L307.38,760.74" stroke="#3a1812" stroke-width="0.91" stroke-linecap="round"/>
<path d="M312.45,760.18L312.45,762.42M313.42,760.74L311.48,761.86M313.42,761.86L311.48,760.74" stroke="#3a1812" stroke-width="0.91" stroke-linecap="round"/>
<path d="M316.55,760.18L316.55,762.42M317.52,760.74L315.58,761.86M317.52,761.86L315.58,760.74" stroke="#3a1812" stroke-width="0.91" stroke-linecap="round"/>
<path d="M320.65,760.18L320.65,762.42M321.62,760.74L319.68,761.86M321.62,761.86L319.68,760.74" stroke="#3a1812" stroke-width="0.91" stroke-linecap="round"/>
<line x1="57.65" y1="788.8" x2="57.65" y2="880.0" stroke="#1c1c1c" stroke-width="1.6" />
<text x="47.45" y="882.6999999999999" font-size="9.8" fill="#2a2a2a" text-anchor="end" >0</text>
<line x1="53.05" y1="850.5333333333333" x2="57.65" y2="850.5333333333333" stroke="#1c1c1c" stroke-width="1.4" />
<text x="47.45" y="853.9333333333333" font-size="9.8" fill="#2a2a2a" text-anchor="end" >20</text>
<line x1="53.05" y1="821.7666666666667" x2="57.65" y2="821.7666666666667" stroke="#1c1c1c" stroke-width="1.4" />
<text x="47.45" y="825.1666666666666" font-size="9.8" fill="#2a2a2a" text-anchor="end" >40</text>
<line x1="53.05" y1="793.0" x2="57.65" y2="793.0" stroke="#1c1c1c" stroke-width="1.4" />
<text x="47.45" y="796.4" font-size="9.8" fill="#2a2a2a" text-anchor="end" >60</text>
<line x1="53.05" y1="879.3" x2="124.15" y2="879.3" stroke="#1c1c1c" stroke-width="1.6" />
<line x1="68.8" y1="879.3" x2="68.8" y2="884.3" stroke="#1c1c1c" stroke-width="1.3" />
<rect x="64.00" y="878.00" width="9.60" height="1.30" fill="#35a3dc" />
<rect x="64.00" y="874.50" width="9.60" height="3.50" fill="#a9d39a" />
<rect x="64.00" y="871.30" width="9.60" height="3.20" fill="#f8c21a" />
<rect x="64.00" y="841.30" width="9.60" height="30.00" fill="#dc7467" />
<line x1="66.39999999999999" y1="877.2" x2="71.2" y2="877.2" stroke="#2a1a10" stroke-width="1.2" opacity="0.9"/>
<line x1="68.8" y1="871.1" x2="68.8" y2="874.5" stroke="#2a1a10" stroke-width="1.2" opacity="0.9"/>
<line x1="66.39999999999999" y1="871.1" x2="71.2" y2="871.1" stroke="#2a1a10" stroke-width="1.2" opacity="0.9"/>
<line x1="66.39999999999999" y1="870.3" x2="71.2" y2="870.3" stroke="#2a1a10" stroke-width="1.2" opacity="0.9"/>
<line x1="68.8" y1="838.8" x2="68.8" y2="841.3" stroke="#2a1a10" stroke-width="1.0" />
<line x1="66.2" y1="838.8" x2="71.39999999999999" y2="838.8" stroke="#2a1a10" stroke-width="1.1" />
<line x1="91.3" y1="879.3" x2="91.3" y2="884.3" stroke="#1c1c1c" stroke-width="1.3" />
<rect x="86.50" y="878.00" width="9.60" height="1.30" fill="#35a3dc" />
<rect x="86.50" y="873.00" width="9.60" height="5.00" fill="#a9d39a" />
<rect x="86.50" y="872.30" width="9.60" height="0.70" fill="#f8c21a" />
<rect x="86.50" y="845.00" width="9.60" height="27.30" fill="#dc7467" />
<line x1="88.89999999999999" y1="877.2" x2="93.7" y2="877.2" stroke="#2a1a10" stroke-width="1.2" opacity="0.9"/>
<line x1="91.3" y1="869.6" x2="91.3" y2="873.0" stroke="#2a1a10" stroke-width="1.2" opacity="0.9"/>
<line x1="88.89999999999999" y1="869.6" x2="93.7" y2="869.6" stroke="#2a1a10" stroke-width="1.2" opacity="0.9"/>
<line x1="88.89999999999999" y1="871.3" x2="93.7" y2="871.3" stroke="#2a1a10" stroke-width="1.2" opacity="0.9"/>
<line x1="91.3" y1="844.3" x2="91.3" y2="845.0" stroke="#2a1a10" stroke-width="1.0" />
<line x1="88.7" y1="844.3" x2="93.89999999999999" y2="844.3" stroke="#2a1a10" stroke-width="1.1" />
<path d="M84.55,860.88L84.55,863.12M85.52,861.44L83.58,862.56M85.52,862.56L83.58,861.44" stroke="#3a1812" stroke-width="0.91" stroke-linecap="round"/>
<path d="M88.65,860.88L88.65,863.12M89.62,861.44L87.68,862.56M89.62,862.56L87.68,861.44" stroke="#3a1812" stroke-width="0.91" stroke-linecap="round"/>
<path d="M92.75,860.88L92.75,863.12M93.72,861.44L91.78,862.56M93.72,862.56L91.78,861.44" stroke="#3a1812" stroke-width="0.91" stroke-linecap="round"/>
<path d="M96.85,860.88L96.85,863.12M97.82,861.44L95.88,862.56M97.82,862.56L95.88,861.44" stroke="#3a1812" stroke-width="0.91" stroke-linecap="round"/>
<line x1="113.8" y1="879.3" x2="113.8" y2="884.3" stroke="#1c1c1c" stroke-width="1.3" />
<rect x="109.00" y="877.50" width="9.60" height="1.80" fill="#35a3dc" />
<rect x="109.00" y="853.30" width="9.60" height="24.20" fill="#a9d39a" />
<rect x="109.00" y="850.50" width="9.60" height="2.80" fill="#f8c21a" />
<rect x="109.00" y="834.30" width="9.60" height="16.20" fill="#dc7467" />
<line x1="111.39999999999999" y1="876.7" x2="116.2" y2="876.7" stroke="#2a1a10" stroke-width="1.2" opacity="0.9"/>
<line x1="113.8" y1="849.9" x2="113.8" y2="853.3" stroke="#2a1a10" stroke-width="1.2" opacity="0.9"/>
<line x1="111.39999999999999" y1="849.9" x2="116.2" y2="849.9" stroke="#2a1a10" stroke-width="1.2" opacity="0.9"/>
<line x1="111.39999999999999" y1="849.5" x2="116.2" y2="849.5" stroke="#2a1a10" stroke-width="1.2" opacity="0.9"/>
<line x1="113.8" y1="832.5" x2="113.8" y2="834.3" stroke="#2a1a10" stroke-width="1.0" />
<line x1="111.2" y1="832.5" x2="116.39999999999999" y2="832.5" stroke="#2a1a10" stroke-width="1.1" />
<path d="M113.80,857.88L113.80,860.12M114.77,858.44L112.83,859.56M114.77,859.56L112.83,858.44" stroke="#3a1812" stroke-width="0.91" stroke-linecap="round"/>
<path d="M113.80,862.18L113.80,864.42M114.77,862.74L112.83,863.86M114.77,863.86L112.83,862.74" stroke="#3a1812" stroke-width="0.91" stroke-linecap="round"/>
<path d="M113.80,866.48L113.80,868.72M114.77,867.04L112.83,868.16M114.77,868.16L112.83,867.04" stroke="#3a1812" stroke-width="0.91" stroke-linecap="round"/>
<path d="M113.80,870.78L113.80,873.02M114.77,871.34L112.83,872.46M114.77,872.46L112.83,871.34" stroke="#3a1812" stroke-width="0.91" stroke-linecap="round"/>
<line x1="158.3" y1="788.8" x2="158.3" y2="880.0" stroke="#1c1c1c" stroke-width="1.6" />
<text x="148.10000000000002" y="882.6999999999999" font-size="9.8" fill="#2a2a2a" text-anchor="end" >0</text>
<line x1="153.70000000000002" y1="850.5333333333333" x2="158.3" y2="850.5333333333333" stroke="#1c1c1c" stroke-width="1.4" />
<text x="148.10000000000002" y="853.9333333333333" font-size="9.8" fill="#2a2a2a" text-anchor="end" >20</text>
<line x1="153.70000000000002" y1="821.7666666666667" x2="158.3" y2="821.7666666666667" stroke="#1c1c1c" stroke-width="1.4" />
<text x="148.10000000000002" y="825.1666666666666" font-size="9.8" fill="#2a2a2a" text-anchor="end" >40</text>
<line x1="153.70000000000002" y1="793.0" x2="158.3" y2="793.0" stroke="#1c1c1c" stroke-width="1.4" />
<text x="148.10000000000002" y="796.4" font-size="9.8" fill="#2a2a2a" text-anchor="end" >60</text>
<line x1="153.70000000000002" y1="879.3" x2="224.8" y2="879.3" stroke="#1c1c1c" stroke-width="1.6" />
<line x1="169.3" y1="879.3" x2="169.3" y2="884.3" stroke="#1c1c1c" stroke-width="1.3" />
<rect x="164.50" y="873.80" width="9.60" height="5.50" fill="#35a3dc" />
<rect x="164.50" y="830.00" width="9.60" height="43.80" fill="#a9d39a" />
<rect x="164.50" y="820.80" width="9.60" height="9.20" fill="#f8c21a" />
<rect x="164.50" y="781.80" width="9.60" height="39.00" fill="#dc7467" />
<line x1="166.9" y1="873.0" x2="171.70000000000002" y2="873.0" stroke="#2a1a10" stroke-width="1.2" opacity="0.9"/>
<line x1="169.3" y1="826.6" x2="169.3" y2="830.0" stroke="#2a1a10" stroke-width="1.2" opacity="0.9"/>
<line x1="166.9" y1="826.6" x2="171.70000000000002" y2="826.6" stroke="#2a1a10" stroke-width="1.2" opacity="0.9"/>
<line x1="166.9" y1="819.8" x2="171.70000000000002" y2="819.8" stroke="#2a1a10" stroke-width="1.2" opacity="0.9"/>
<line x1="169.3" y1="778.8" x2="169.3" y2="781.8" stroke="#2a1a10" stroke-width="1.0" />
<line x1="166.70000000000002" y1="778.8" x2="171.9" y2="778.8" stroke="#2a1a10" stroke-width="1.1" />
<line x1="191.8" y1="879.3" x2="191.8" y2="884.3" stroke="#1c1c1c" stroke-width="1.3" />
<rect x="187.00" y="874.50" width="9.60" height="4.80" fill="#35a3dc" />
<rect x="187.00" y="817.50" width="9.60" height="57.00" fill="#a9d39a" />
<rect x="187.00" y="813.00" width="9.60" height="4.50" fill="#f8c21a" />
<rect x="187.00" y="786.30" width="9.60" height="26.70" fill="#dc7467" />
<line x1="189.4" y1="873.7" x2="194.20000000000002" y2="873.7" stroke="#2a1a10" stroke-width="1.2" opacity="0.9"/>
<line x1="191.8" y1="814.1" x2="191.8" y2="817.5" stroke="#2a1a10" stroke-width="1.2" opacity="0.9"/>
<line x1="189.4" y1="814.1" x2="194.20000000000002" y2="814.1" stroke="#2a1a10" stroke-width="1.2" opacity="0.9"/>
<line x1="189.4" y1="812.0" x2="194.20000000000002" y2="812.0" stroke="#2a1a10" stroke-width="1.2" opacity="0.9"/>
<line x1="191.8" y1="783.8" x2="191.8" y2="786.3" stroke="#2a1a10" stroke-width="1.0" />
<line x1="189.20000000000002" y1="783.8" x2="194.4" y2="783.8" stroke="#2a1a10" stroke-width="1.1" />
<path d="M191.80,796.48L191.80,798.72M192.77,797.04L190.83,798.16M192.77,798.16L190.83,797.04" stroke="#3a1812" stroke-width="0.91" stroke-linecap="round"/>
<path d="M191.80,800.78L191.80,803.02M192.77,801.34L190.83,802.46M192.77,802.46L190.83,801.34" stroke="#3a1812" stroke-width="0.91" stroke-linecap="round"/>
<path d="M191.80,849.08L191.80,851.32M192.77,849.64L190.83,850.76M192.77,850.76L190.83,849.64" stroke="#3a1812" stroke-width="0.91" stroke-linecap="round"/>
<line x1="214.3" y1="879.3" x2="214.3" y2="884.3" stroke="#1c1c1c" stroke-width="1.3" />
<rect x="209.50" y="873.80" width="9.60" height="5.50" fill="#35a3dc" />
<rect x="209.50" y="811.30" width="9.60" height="62.50" fill="#a9d39a" />
<rect x="209.50" y="807.50" width="9.60" height="3.80" fill="#f8c21a" />
<rect x="209.50" y="787.00" width="9.60" height="20.50" fill="#dc7467" />
<line x1="211.9" y1="873.0" x2="216.70000000000002" y2="873.0" stroke="#2a1a10" stroke-width="1.2" opacity="0.9"/>
<line x1="214.3" y1="807.9" x2="214.3" y2="811.3" stroke="#2a1a10" stroke-width="1.2" opacity="0.9"/>
<line x1="211.9" y1="807.9" x2="216.70000000000002" y2="807.9" stroke="#2a1a10" stroke-width="1.2" opacity="0.9"/>
<line x1="211.9" y1="806.5" x2="216.70000000000002" y2="806.5" stroke="#2a1a10" stroke-width="1.2" opacity="0.9"/>
<line x1="214.3" y1="783.8" x2="214.3" y2="787.0" stroke="#2a1a10" stroke-width="1.0" />
<line x1="211.70000000000002" y1="783.8" x2="216.9" y2="783.8" stroke="#2a1a10" stroke-width="1.1" />
<path d="M214.30,790.28L214.30,792.52M215.27,790.84L213.33,791.96M215.27,791.96L213.33,790.84" stroke="#3a1812" stroke-width="0.91" stroke-linecap="round"/>
<path d="M214.30,794.58L214.30,796.82M215.27,795.14L213.33,796.26M215.27,796.26L213.33,795.14" stroke="#3a1812" stroke-width="0.91" stroke-linecap="round"/>
<path d="M214.30,798.88L214.30,801.12M215.27,799.44L213.33,800.56M215.27,800.56L213.33,799.44" stroke="#3a1812" stroke-width="0.91" stroke-linecap="round"/>
<path d="M214.30,803.18L214.30,805.42M215.27,803.74L213.33,804.86M215.27,804.86L213.33,803.74" stroke="#3a1812" stroke-width="0.91" stroke-linecap="round"/>
<path d="M214.30,836.48L214.30,838.72M215.27,837.04L213.33,838.16M215.27,838.16L213.33,837.04" stroke="#3a1812" stroke-width="0.91" stroke-linecap="round"/>
<path d="M214.30,840.78L214.30,843.02M215.27,841.34L213.33,842.46M215.27,842.46L213.33,841.34" stroke="#3a1812" stroke-width="0.91" stroke-linecap="round"/>
<path d="M214.30,845.08L214.30,847.32M215.27,845.64L213.33,846.76M215.27,846.76L213.33,845.64" stroke="#3a1812" stroke-width="0.91" stroke-linecap="round"/>
<line x1="258.6" y1="788.8" x2="258.6" y2="880.0" stroke="#1c1c1c" stroke-width="1.6" />
<text x="248.40000000000003" y="882.6999999999999" font-size="9.8" fill="#2a2a2a" text-anchor="end" >0</text>
<line x1="254.00000000000003" y1="850.5333333333333" x2="258.6" y2="850.5333333333333" stroke="#1c1c1c" stroke-width="1.4" />
<text x="248.40000000000003" y="853.9333333333333" font-size="9.8" fill="#2a2a2a" text-anchor="end" >20</text>
<line x1="254.00000000000003" y1="821.7666666666667" x2="258.6" y2="821.7666666666667" stroke="#1c1c1c" stroke-width="1.4" />
<text x="248.40000000000003" y="825.1666666666666" font-size="9.8" fill="#2a2a2a" text-anchor="end" >40</text>
<line x1="254.00000000000003" y1="793.0" x2="258.6" y2="793.0" stroke="#1c1c1c" stroke-width="1.4" />
<text x="248.40000000000003" y="796.4" font-size="9.8" fill="#2a2a2a" text-anchor="end" >60</text>
<line x1="254.00000000000003" y1="879.3" x2="325.1" y2="879.3" stroke="#1c1c1c" stroke-width="1.6" />
<line x1="269.8" y1="879.3" x2="269.8" y2="884.3" stroke="#1c1c1c" stroke-width="1.3" />
<rect x="265.00" y="876.30" width="9.60" height="3.00" fill="#35a3dc" />
<rect x="265.00" y="827.00" width="9.60" height="49.30" fill="#a9d39a" />
<rect x="265.00" y="820.00" width="9.60" height="7.00" fill="#f8c21a" />
<rect x="265.00" y="809.50" width="9.60" height="10.50" fill="#dc7467" />
<line x1="267.40000000000003" y1="875.5" x2="272.2" y2="875.5" stroke="#2a1a10" stroke-width="1.2" opacity="0.9"/>
<line x1="269.8" y1="822.0" x2="269.8" y2="827.0" stroke="#2a1a10" stroke-width="1.2" opacity="0.9"/>
<line x1="267.40000000000003" y1="822.0" x2="272.2" y2="822.0" stroke="#2a1a10" stroke-width="1.2" opacity="0.9"/>
<line x1="267.40000000000003" y1="819.0" x2="272.2" y2="819.0" stroke="#2a1a10" stroke-width="1.2" opacity="0.9"/>
<line x1="269.8" y1="808.3" x2="269.8" y2="809.5" stroke="#2a1a10" stroke-width="1.0" />
<line x1="267.2" y1="808.3" x2="272.40000000000003" y2="808.3" stroke="#2a1a10" stroke-width="1.1" />
<line x1="292.0" y1="879.3" x2="292.0" y2="884.3" stroke="#1c1c1c" stroke-width="1.3" />
<rect x="287.20" y="875.00" width="9.60" height="4.30" fill="#35a3dc" />
<rect x="287.20" y="830.80" width="9.60" height="44.20" fill="#a9d39a" />
<rect x="287.20" y="823.30" width="9.60" height="7.50" fill="#f8c21a" />
<rect x="287.20" y="811.30" width="9.60" height="12.00" fill="#dc7467" />
<line x1="289.6" y1="874.2" x2="294.4" y2="874.2" stroke="#2a1a10" stroke-width="1.2" opacity="0.9"/>
<line x1="292.0" y1="824.3" x2="292.0" y2="830.8" stroke="#2a1a10" stroke-width="1.2" opacity="0.9"/>
<line x1="289.6" y1="824.3" x2="294.4" y2="824.3" stroke="#2a1a10" stroke-width="1.2" opacity="0.9"/>
<line x1="289.6" y1="822.3" x2="294.4" y2="822.3" stroke="#2a1a10" stroke-width="1.2" opacity="0.9"/>
<line x1="292.0" y1="807.5" x2="292.0" y2="811.3" stroke="#2a1a10" stroke-width="1.0" />
<line x1="289.4" y1="807.5" x2="294.6" y2="807.5" stroke="#2a1a10" stroke-width="1.1" />
<line x1="314.3" y1="879.3" x2="314.3" y2="884.3" stroke="#1c1c1c" stroke-width="1.3" />
<rect x="309.50" y="877.50" width="9.60" height="1.80" fill="#35a3dc" />
<rect x="309.50" y="867.00" width="9.60" height="10.50" fill="#a9d39a" />
<rect x="309.50" y="861.30" width="9.60" height="5.70" fill="#f8c21a" />
<rect x="309.50" y="853.30" width="9.60" height="8.00" fill="#dc7467" />
<line x1="311.90000000000003" y1="876.7" x2="316.7" y2="876.7" stroke="#2a1a10" stroke-width="1.2" opacity="0.9"/>
<line x1="314.3" y1="863.2" x2="314.3" y2="867.0" stroke="#2a1a10" stroke-width="1.2" opacity="0.9"/>
<line x1="311.90000000000003" y1="863.2" x2="316.7" y2="863.2" stroke="#2a1a10" stroke-width="1.2" opacity="0.9"/>
<line x1="311.90000000000003" y1="860.3" x2="316.7" y2="860.3" stroke="#2a1a10" stroke-width="1.2" opacity="0.9"/>
<line x1="314.3" y1="851.8" x2="314.3" y2="853.3" stroke="#2a1a10" stroke-width="1.0" />
<line x1="311.7" y1="851.8" x2="316.90000000000003" y2="851.8" stroke="#2a1a10" stroke-width="1.1" />
<path d="M308.35,873.48L308.35,875.72M309.32,874.04L307.38,875.16M309.32,875.16L307.38,874.04" stroke="#3a1812" stroke-width="0.91" stroke-linecap="round"/>
<path d="M312.45,873.48L312.45,875.72M313.42,874.04L311.48,875.16M313.42,875.16L311.48,874.04" stroke="#3a1812" stroke-width="0.91" stroke-linecap="round"/>
<path d="M316.55,873.48L316.55,875.72M317.52,874.04L315.58,875.16M317.52,875.16L315.58,874.04" stroke="#3a1812" stroke-width="0.91" stroke-linecap="round"/>
<path d="M320.65,873.48L320.65,875.72M321.62,874.04L319.68,875.16M321.62,875.16L319.68,874.04" stroke="#3a1812" stroke-width="0.91" stroke-linecap="round"/>
<text x="97.8" y="662.9" font-size="10.0" fill="#4ea84e" text-anchor="middle" font-style="italic" >WT</text>
<text x="190.6" y="662.9" font-size="10.0" fill="#c6243f" text-anchor="middle" font-style="italic" >E12</text>
<text x="291.8" y="662.9" font-size="10.0" fill="#3b62a3" text-anchor="middle" font-style="italic" >Ki</text>
<text x="46.8" y="670.2" font-size="8.6" fill="#2a2a2a" text-anchor="end" >%</text>
<text x="147.6" y="670.2" font-size="8.6" fill="#2a2a2a" text-anchor="end" >%</text>
<text x="247.60000000000002" y="670.2" font-size="8.6" fill="#2a2a2a" text-anchor="end" >%</text>
<text x="27.2" y="722.8" font-size="14.6" fill="#2a2a2a" text-anchor="middle" textLength="59.6" lengthAdjust="spacingAndGlyphs" transform="rotate(-90 27.2 722.8)">Bone marrow</text>
<text x="27.2" y="833.8" font-size="14.0" fill="#2a2a2a" text-anchor="middle" textLength="30.4" lengthAdjust="spacingAndGlyphs" transform="rotate(-90 27.2 833.8)">Spleen</text>
<text x="68.9" y="896.6" font-size="9.9" fill="#2a2a2a" text-anchor="middle" >CD</text>
<text x="91.3" y="896.6" font-size="9.9" fill="#2a2a2a" text-anchor="middle" >LD</text>
<text x="113.7" y="896.6" font-size="9.9" fill="#2a2a2a" text-anchor="middle" >LD</text>
<text x="113.7" y="907.8" font-size="9.6" fill="#2a2a2a" text-anchor="middle" >+Phl</text>
<text x="169.6" y="896.6" font-size="9.9" fill="#2a2a2a" text-anchor="middle" >CD</text>
<text x="192.0" y="896.6" font-size="9.9" fill="#2a2a2a" text-anchor="middle" >LD</text>
<text x="214.39999999999998" y="896.6" font-size="9.9" fill="#2a2a2a" text-anchor="middle" >LD</text>
<text x="214.39999999999998" y="907.8" font-size="9.6" fill="#2a2a2a" text-anchor="middle" >+Phl</text>
<text x="269.59999999999997" y="896.6" font-size="9.9" fill="#2a2a2a" text-anchor="middle" >CD</text>
<text x="292.0" y="896.6" font-size="9.9" fill="#2a2a2a" text-anchor="middle" >LD</text>
<text x="314.4" y="896.6" font-size="9.9" fill="#2a2a2a" text-anchor="middle" >LD</text>
<text x="314.4" y="907.8" font-size="9.6" fill="#2a2a2a" text-anchor="middle" >+Phl</text>
<rect x="334.60" y="696.40" width="7.40" height="10.50" fill="#dc7467" />
<text x="351.6" y="706.9" font-size="9.2" fill="#4a4a4a" text-anchor="middle" >IV</text>
<rect x="334.60" y="716.30" width="7.40" height="10.80" fill="#f8c21a" />
<text x="351.6" y="725.3" font-size="9.2" fill="#4a4a4a" text-anchor="middle" >III</text>
<rect x="334.60" y="735.20" width="7.40" height="10.50" fill="#a9d39a" />
<text x="351.6" y="743.2" font-size="9.2" fill="#4a4a4a" text-anchor="middle" >II</text>
<rect x="334.60" y="752.00" width="7.40" height="10.10" fill="#35a3dc" />
<text x="351.6" y="761.4" font-size="9.2" fill="#4a4a4a" text-anchor="middle" >I</text>
<text x="396.3" y="661.8" font-size="9.0" fill="#2a2a2a" text-anchor="start" textLength="102.7" lengthAdjust="spacingAndGlyphs" >stages of differentiation</text>
<text x="402.6" y="678.9" font-size="8.4" fill="#333" text-anchor="middle" >I</text>
<text x="432.4" y="678.9" font-size="8.4" fill="#333" text-anchor="middle" >II</text>
<text x="458.3" y="678.9" font-size="8.4" fill="#333" text-anchor="middle" >III</text>
<text x="484.8" y="678.9" font-size="8.4" fill="#333" text-anchor="middle" >IV</text>
<line x1="474.4" y1="682.8" x2="495.8" y2="682.8" stroke="#222" stroke-width="1.4" />
<defs><radialGradient id="gI" cx="0.5" cy="0.5" r="0.5"><stop offset="0" stop-color="#a0288c"/><stop offset="0.55" stop-color="#8a2f9a"/><stop offset="1" stop-color="#6b3d9c"/></radialGradient></defs>
<ellipse cx="403.0" cy="692.2" rx="7.2" ry="7.5" fill="url(#gI)"/>
<circle cx="432.8" cy="693.8" r="7.0" fill="#d3134c" stroke="#5a1420" stroke-width="1.1"/>
<circle cx="432.8" cy="693.8" r="4.3" fill="#c10d45"/>
<circle cx="458.6" cy="693.8" r="5.3" fill="#e8702a" stroke="#4a1e10" stroke-width="1.0"/>
<circle cx="458.6" cy="693.8" r="2.7" fill="#a6126a"/>
<circle cx="479.0" cy="693.5" r="5.8" fill="#f26c1c"/>
<circle cx="491.8" cy="693.8" r="5.9" fill="#e01a5a"/>
<ellipse cx="491.9" cy="693.9" rx="3.1" ry="3.0" fill="#fdeef2"/>
<text x="418.6" y="724.0" font-size="9.0" fill="#2a2a2a" text-anchor="start" textLength="67.6" lengthAdjust="spacingAndGlyphs" >Gating strategy</text>
<defs><filter id="b06" x="-20%" y="-20%" width="140%" height="140%"><feGaussianBlur stdDeviation="0.6"/></filter><filter id="b10" x="-30%" y="-30%" width="160%" height="160%"><feGaussianBlur stdDeviation="1.0"/></filter><filter id="b14" x="-40%" y="-40%" width="180%" height="180%"><feGaussianBlur stdDeviation="1.4"/></filter></defs>
<rect x="407.7" y="732.7" width="88.4" height="82.8" fill="#fff" stroke="#b4b4b4" stroke-width="0.8"/>
<g clip-path="none">
<path d="M418.3,751 C420,747.5 422.5,745.8 425,745.2 C426.5,744.6 427.8,744.3 428.8,744.2 L441.3,743.2 C447,742.4 452,741.5 457,740.8 C461,740.2 465,739.6 469,739.0 C472,738.5 475,738.0 478,737.9 C481,737.8 484,737.8 486.5,738.1 C488.8,738.6 490.4,739.6 491.3,741.3 C492.3,743 492.7,744.6 492.7,746.2 C492.7,749.5 492.5,752.6 492.3,755.8 C492.2,758.5 492.1,761 491.9,763.5 C491.5,766 491,768.7 490.4,771.2 C489.8,775 489.2,779 488.8,782.7 C488.3,788 488.0,793 488.0,798 C488.4,800.8 488.9,803.3 489.4,805.8 C490,808.5 490.5,811 490.4,813.5 C490.2,815.5 489.6,817 488.8,818.3 C485.5,819 482,819.3 478.8,819.2 C475.5,819.1 472,818.8 469.2,818.3 C468.3,816.8 467.8,815.2 467.7,813.5 C467.7,810.8 468.2,808.2 468.8,805.8 C469.4,803.2 469.7,800.6 469.6,798 C469.6,793 469.5,788 469.2,782.7 C468.9,779.3 468.2,776 467.3,773 C466.2,771.5 465,770.6 463.5,770.2 C461.5,769.9 459.6,769.9 457.7,770.2 C455.2,770.7 453,771.7 451,773 C449,775 447.5,777.4 446.2,779.8 C444.6,782.6 443.5,785.5 442.7,788.5 C441.9,791.6 441.5,794.8 441.3,798 C441.2,801.2 441.4,804.5 441.9,807.7 C442.6,810 443.8,812.2 445.2,814.4 C445.9,815.6 446.2,817 446.2,818.3 C440.5,819.2 434.6,819.6 428.8,819.6 C424,819.5 419,819 414.4,818.3 C413.6,816.8 413.3,815.2 413.5,813.5 C414,810.8 415.2,808.3 416.3,805.8 C417,803.2 417.3,800.6 417.3,798 C417.3,793 417.1,788 416.9,782.7 C416.8,777.6 417.0,772.4 417.3,767.3 C417.4,763.5 417.5,759.6 417.7,755.8 C417.8,754.2 418,752.6 418.3,751 Z" fill="#1e1f8e"/>
<g filter="url(#b10)">
<path d="M420.2,753 C422,749 426,747.2 430,746.6 L458,745.6 C466,745.2 470,743.4 474,741.6 C480,740.6 486,740.8 489,742.6 C490.5,746 490.4,752 490,758 C489.6,764 488.6,770 487.4,776 C486.6,783 486.2,790 486.0,797 C486.4,803 488,809 487.8,816 L470.8,816 C470.6,810 471.6,803 471.8,797 C471.8,789 471.4,781 470.2,775.5 C468.4,770.5 464,768.2 458,768.0 C452,768.2 448,771 445,776 C442.5,781 440.2,788 439.8,796 C439.6,804 440.8,810 443.2,816 L416,816 C417.4,810 419.2,804 419.6,797 C419.8,786 419.6,775 419.6,764 C419.6,760 419.8,756 420.2,753 Z" fill="#2847bd"/>
</g>
<g filter="url(#b10)">
<path d="M419.8,756.5 C421.5,754.4 425,753.8 430,753.8 L441.6,754.2 C448,755 456,756.2 464,757 C468,757.6 471,758.6 472.5,760.5 C471,763 466,764 456,764.2 L422,764.6 C420.4,762.8 419.6,759.5 419.8,756.5 Z" fill="#3ec3d6"/>
<path d="M436,747.4 C445,745.4 456,744.6 466,744.2 C470,744 471.6,745.4 471.6,748 C471.4,750.4 469,751.8 465,752.2 C458,751.2 450,749.8 443,749.6 C439.5,749.5 437,749 436,747.4 Z" fill="#3ec3d6"/>
<path d="M440.5,749.6 C448,750.2 457,751.2 466.5,752.6 C458,754.4 449,755.6 440.5,756.2 Z" fill="#1f2496"/>
<path d="M421.8,764 C423.2,772 424,780 424.2,788 C424.3,795 423.8,801 423,806 L436.4,806 C435.4,800 435.2,793 435.4,786 C435.7,778 436.4,770 437.4,764 Z" fill="#2f8fd2" opacity="0.9"/>
<path d="M425.2,764 C426.2,772 426.8,780 427,788 C427.1,795 426.8,801 426.2,806 L432.8,806 C432.2,800 432.0,793 432.2,786 C432.5,778 433,770 433.8,764 Z" fill="#3cbcd8" opacity="0.9"/>
<path d="M477.5,760 C479.6,767 480.8,774 481.4,784 L486.2,784 C486.8,774 487.8,767 489.4,760 Z" fill="#3ec6d2"/>
</g>
<g filter="url(#b10)">
<path d="M469.6,744.8 C473,742.4 481,741.4 487.2,742.6 C489.8,744.4 490.6,749 490.2,754 C489.6,758.6 488,761.6 485.2,762.8 C480,763.4 474,763.2 470.6,762 C469.4,757 469.2,750 469.6,744.8 Z" fill="#56c25a"/>
<path d="M419,801.5 C423,799 431.5,799 437,801.5 C440.5,806 442.8,811 444.2,817 L415.2,817 C416,811 417.2,806 419,801.5 Z" fill="#3ec2c6"/>
<path d="M472.6,802.5 C475.2,800.5 483.5,800.5 486.4,802.5 C488.3,806.5 489.2,811.5 489.2,817 L470.2,817 C470.4,811.5 471.2,806.5 472.6,802.5 Z" fill="#3ec2c6"/>
</g>
<g filter="url(#b06)">
<path d="M420.5,808 C423.5,805 432.5,805 435.8,808 C437.8,811 439,813.6 439.6,817 L417,817 C417.6,813.6 418.8,810.6 420.5,808 Z" fill="#48bc48"/>
<path d="M474.2,808.2 C476.2,806.2 482.6,806.2 484.6,808.2 C486,811 486.6,813.6 486.6,816.8 L472.4,816.8 C472.6,813.6 473.2,810.8 474.2,808.2 Z" fill="#48bc48"/>
</g>
<g filter="url(#b06)">
<ellipse cx="478.3" cy="749.8" rx="5.4" ry="4.0" fill="#e6e022"/>
<ellipse cx="478.2" cy="749.6" rx="3.6" ry="2.5" fill="#e8501a"/>
<ellipse cx="478.0" cy="749.4" rx="2.4" ry="1.6" fill="#dc1c14"/>
</g>
</g>
<rect x="445.7" y="794.3" width="0.9" height="0.9" fill="#111"/><rect x="442.8" y="809.1" width="0.8" height="0.8" fill="#111"/><rect x="465.8" y="772.1" width="0.9" height="0.9" fill="#111"/><rect x="442.6" y="801.4" width="1.4" height="1.4" fill="#111"/><rect x="449.0" y="772.5" width="1.2" height="1.2" fill="#111"/><rect x="446.2" y="802.4" width="1.0" height="1.0" fill="#111"/><rect x="444.1" y="800.9" width="1.2" height="1.2" fill="#111"/><rect x="445.8" y="818.3" width="1.4" height="1.4" fill="#111"/><rect x="446.6" y="781.8" width="1.0" height="1.0" fill="#111"/><rect x="465.7" y="788.1" width="0.9" height="0.9" fill="#111"/><rect x="445.9" y="805.6" width="0.9" height="0.9" fill="#111"/><rect x="443.4" y="794.4" width="1.2" height="1.2" fill="#111"/><rect x="449.1" y="777.7" width="0.8" height="0.8" fill="#111"/><rect x="443.9" y="792.7" width="1.4" height="1.4" fill="#111"/><rect x="448.3" y="791.1" width="0.9" height="0.9" fill="#111"/><rect x="449.7" y="770.7" width="0.8" height="0.8" fill="#111"/><rect x="442.6" y="806.1" width="1.4" height="1.4" fill="#111"/><rect x="447.5" y="789.0" width="1.2" height="1.2" fill="#111"/><rect x="446.6" y="779.9" width="0.9" height="0.9" fill="#111"/><rect x="444.2" y="793.6" width="0.8" height="0.8" fill="#111"/><rect x="445.2" y="791.3" width="0.9" height="0.9" fill="#111"/><rect x="445.9" y="807.1" width="0.9" height="0.9" fill="#111"/><rect x="443.4" y="795.5" width="1.0" height="1.0" fill="#111"/><rect x="446.2" y="792.5" width="0.8" height="0.8" fill="#111"/><rect x="463.4" y="795.5" width="0.9" height="0.9" fill="#111"/><rect x="462.4" y="775.4" width="0.8" height="0.8" fill="#111"/><rect x="445.4" y="785.6" width="0.9" height="0.9" fill="#111"/><rect x="452.7" y="774.7" width="1.2" height="1.2" fill="#111"/><rect x="442.0" y="795.7" width="1.2" height="1.2" fill="#111"/><rect x="448.3" y="792.4" width="1.2" height="1.2" fill="#111"/><rect x="456.3" y="774.4" width="0.8" height="0.8" fill="#111"/><rect x="447.0" y="803.0" width="1.0" height="1.0" fill="#111"/><rect x="444.2" y="814.3" width="1.0" height="1.0" fill="#111"/><rect x="447.4" y="805.0" width="0.8" height="0.8" fill="#111"/><rect x="464.9" y="792.9" width="1.4" height="1.4" fill="#111"/><rect x="444.2" y="802.7" width="0.8" height="0.8" fill="#111"/><rect x="453.3" y="798.7" width="0.8" height="0.8" fill="#111"/><rect x="445.1" y="794.4" width="0.8" height="0.8" fill="#111"/><rect x="448.0" y="814.1" width="0.9" height="0.9" fill="#111"/><rect x="454.5" y="769.5" width="1.4" height="1.4" fill="#111"/><rect x="446.7" y="789.1" width="0.8" height="0.8" fill="#111"/><rect x="451.6" y="773.9" width="1.0" height="1.0" fill="#111"/><rect x="445.0" y="792.4" width="1.2" height="1.2" fill="#111"/><rect x="448.4" y="815.0" width="1.0" height="1.0" fill="#111"/><rect x="461.2" y="771.6" width="1.2" height="1.2" fill="#111"/><rect x="454.1" y="779.1" width="1.4" height="1.4" fill="#111"/><rect x="444.8" y="787.0" width="1.2" height="1.2" fill="#111"/><rect x="467.2" y="771.0" width="1.0" height="1.0" fill="#111"/><rect x="444.1" y="812.0" width="1.2" height="1.2" fill="#111"/><rect x="446.6" y="790.0" width="0.9" height="0.9" fill="#111"/><rect x="449.3" y="807.4" width="0.9" height="0.9" fill="#111"/><rect x="450.1" y="813.9" width="1.2" height="1.2" fill="#111"/><rect x="449.4" y="784.7" width="1.4" height="1.4" fill="#111"/><rect x="447.7" y="786.9" width="1.0" height="1.0" fill="#111"/><rect x="444.8" y="798.3" width="0.8" height="0.8" fill="#111"/><rect x="460.2" y="808.8" width="1.4" height="1.4" fill="#111"/><rect x="449.5" y="796.0" width="1.0" height="1.0" fill="#111"/><rect x="443.6" y="801.1" width="0.9" height="0.9" fill="#111"/><rect x="468.3" y="806.3" width="1.2" height="1.2" fill="#111"/><rect x="446.7" y="780.7" width="1.4" height="1.4" fill="#111"/><rect x="452.4" y="779.8" width="1.2" height="1.2" fill="#111"/><rect x="464.0" y="808.0" width="0.9" height="0.9" fill="#111"/><rect x="444.5" y="814.0" width="0.9" height="0.9" fill="#111"/><rect x="448.4" y="804.5" width="1.2" height="1.2" fill="#111"/><rect x="456.8" y="794.0" width="0.9" height="0.9" fill="#111"/><rect x="449.7" y="784.4" width="1.0" height="1.0" fill="#111"/><rect x="444.4" y="802.0" width="0.8" height="0.8" fill="#111"/><rect x="460.3" y="769.6" width="1.2" height="1.2" fill="#111"/><rect x="449.2" y="785.7" width="0.8" height="0.8" fill="#111"/><rect x="447.9" y="778.9" width="1.0" height="1.0" fill="#111"/><rect x="443.2" y="799.8" width="0.9" height="0.9" fill="#111"/><rect x="445.6" y="788.9" width="1.4" height="1.4" fill="#111"/><rect x="461.8" y="774.0" width="0.8" height="0.8" fill="#111"/><rect x="449.8" y="808.0" width="1.4" height="1.4" fill="#111"/><rect x="446.4" y="785.5" width="0.8" height="0.8" fill="#111"/><rect x="450.2" y="815.0" width="1.2" height="1.2" fill="#111"/><rect x="445.2" y="805.9" width="1.0" height="1.0" fill="#111"/><rect x="448.9" y="813.4" width="1.4" height="1.4" fill="#111"/><rect x="451.3" y="777.2" width="0.8" height="0.8" fill="#111"/><rect x="444.9" y="789.4" width="1.4" height="1.4" fill="#111"/><rect x="450.3" y="800.8" width="0.9" height="0.9" fill="#111"/><rect x="453.1" y="775.1" width="1.4" height="1.4" fill="#111"/><rect x="447.6" y="783.8" width="0.8" height="0.8" fill="#111"/><rect x="444.4" y="803.3" width="1.0" height="1.0" fill="#111"/><rect x="446.4" y="783.6" width="0.8" height="0.8" fill="#111"/><rect x="446.1" y="810.5" width="1.2" height="1.2" fill="#111"/><rect x="443.7" y="803.2" width="0.9" height="0.9" fill="#111"/><rect x="444.1" y="802.1" width="0.8" height="0.8" fill="#111"/><rect x="448.8" y="781.4" width="0.8" height="0.8" fill="#111"/><rect x="444.7" y="813.4" width="1.4" height="1.4" fill="#111"/><rect x="445.6" y="796.5" width="1.0" height="1.0" fill="#111"/><rect x="449.9" y="792.9" width="1.0" height="1.0" fill="#111"/><rect x="455.5" y="770.7" width="0.8" height="0.8" fill="#111"/><rect x="448.2" y="808.5" width="0.9" height="0.9" fill="#111"/><rect x="449.6" y="771.1" width="1.4" height="1.4" fill="#111"/><rect x="456.3" y="773.5" width="1.2" height="1.2" fill="#111"/><rect x="453.2" y="772.8" width="1.4" height="1.4" fill="#111"/><rect x="447.1" y="781.5" width="0.9" height="0.9" fill="#111"/><rect x="453.0" y="773.3" width="1.0" height="1.0" fill="#111"/><rect x="460.1" y="771.9" width="1.4" height="1.4" fill="#111"/><rect x="456.8" y="789.7" width="1.0" height="1.0" fill="#111"/><rect x="451.2" y="782.6" width="0.9" height="0.9" fill="#111"/><rect x="444.2" y="794.6" width="0.8" height="0.8" fill="#111"/><rect x="449.1" y="786.1" width="0.8" height="0.8" fill="#111"/><rect x="463.0" y="801.7" width="0.9" height="0.9" fill="#111"/><rect x="448.0" y="808.6" width="1.2" height="1.2" fill="#111"/><rect x="450.2" y="793.6" width="0.9" height="0.9" fill="#111"/><rect x="467.5" y="772.6" width="1.0" height="1.0" fill="#111"/><rect x="446.0" y="780.3" width="0.9" height="0.9" fill="#111"/><rect x="466.3" y="806.9" width="1.4" height="1.4" fill="#111"/><rect x="446.4" y="788.6" width="0.9" height="0.9" fill="#111"/><rect x="447.3" y="781.3" width="0.9" height="0.9" fill="#111"/><rect x="455.9" y="802.6" width="1.4" height="1.4" fill="#111"/><rect x="466.9" y="812.1" width="1.0" height="1.0" fill="#111"/><rect x="447.8" y="800.4" width="1.0" height="1.0" fill="#111"/><rect x="445.7" y="811.4" width="1.4" height="1.4" fill="#111"/><rect x="444.1" y="803.0" width="1.2" height="1.2" fill="#111"/><rect x="444.4" y="797.5" width="0.9" height="0.9" fill="#111"/><rect x="443.7" y="785.0" width="1.4" height="1.4" fill="#111"/><rect x="446.2" y="796.3" width="0.9" height="0.9" fill="#111"/><rect x="407.8" y="762.0" width="0.9" height="0.9" fill="#111"/><rect x="409.2" y="797.0" width="0.9" height="0.9" fill="#111"/><rect x="409.5" y="803.0" width="0.9" height="0.9" fill="#111"/><rect x="420.5" y="750.5" width="0.9" height="0.9" fill="#111"/><rect x="424.0" y="745.0" width="0.9" height="0.9" fill="#111"/><rect x="432.5" y="743.0" width="0.9" height="0.9" fill="#111"/><rect x="448.0" y="742.6" width="0.9" height="0.9" fill="#111"/><rect x="494.0" y="763.0" width="0.9" height="0.9" fill="#111"/><rect x="494.6" y="777.0" width="0.9" height="0.9" fill="#111"/><rect x="494.0" y="804.0" width="0.9" height="0.9" fill="#111"/><rect x="492.5" y="800.0" width="0.9" height="0.9" fill="#111"/><rect x="466.6" y="790.0" width="0.9" height="0.9" fill="#111"/><rect x="415.0" y="790.0" width="0.9" height="0.9" fill="#111"/><rect x="414.6" y="776.0" width="0.9" height="0.9" fill="#111"/>
<g stroke="#2a2a2a" stroke-width="0.9" fill="none">
<path d="M407.7,742.4 H496.1 M441.8,742.4 V765.4 M467.9,742.4 V815.5 M495.6,742.4 V791.2 M467.9,791.2 H495.6"/>
</g>
<line x1="407.7" y1="765.4" x2="496.1" y2="765.4" stroke="#1e1e1e" stroke-width="1.3"/>
<text x="454.0" y="760.0" font-size="8.0" fill="#dfe8ff" text-anchor="middle" >I</text>
<text x="478.1" y="760.0" font-size="8.0" fill="#dfe8ff" text-anchor="middle" >II</text>
<text x="478.0" y="783.4" font-size="8.0" fill="#dfe8ff" text-anchor="middle" >III</text>
<text x="478.6" y="809.0" font-size="8.0" fill="#dfe8ff" text-anchor="middle" >IV</text>
<g stroke="#333" stroke-width="0.9"><path d="M405.8,742.4 H408 M405.8,765.4 H408 M405.8,800.6 H408 M406.8,746.5 H408 M406.8,762.5 H408 M406.8,736.5 H408"/></g>
<text x="388.3" y="750.8" font-size="10.8" fill="#2a2a2a" text-anchor="start" textLength="9.3" lengthAdjust="spacingAndGlyphs" >10</text>
<text x="399.0" y="745.6999999999999" font-size="9.4" fill="#2a2a2a" text-anchor="start" textLength="4.3" lengthAdjust="spacingAndGlyphs" >5</text>
<text x="388.3" y="766.5" font-size="10.8" fill="#2a2a2a" text-anchor="start" textLength="9.3" lengthAdjust="spacingAndGlyphs" >10</text>
<text x="399.0" y="761.4" font-size="9.4" fill="#2a2a2a" text-anchor="start" textLength="4.3" lengthAdjust="spacingAndGlyphs" >4</text>
<text x="388.3" y="783.5" font-size="10.8" fill="#2a2a2a" text-anchor="start" textLength="9.3" lengthAdjust="spacingAndGlyphs" >10</text>
<text x="399.0" y="778.4" font-size="9.4" fill="#2a2a2a" text-anchor="start" textLength="4.3" lengthAdjust="spacingAndGlyphs" >3</text>
<text x="398.7" y="803.8" font-size="10.8" fill="#2a2a2a" text-anchor="start" textLength="4.0" lengthAdjust="spacingAndGlyphs" >0</text>
<text x="402.0" y="834.0" font-size="10.8" fill="#2a2a2a" text-anchor="start" textLength="15.0" lengthAdjust="spacingAndGlyphs" >−10</text>
<text x="418.5" y="829.0" font-size="9.4" fill="#2a2a2a" text-anchor="start" textLength="4.0" lengthAdjust="spacingAndGlyphs" >3</text>
<text x="426.5" y="834.0" font-size="10.8" fill="#2a2a2a" text-anchor="start" textLength="4.0" lengthAdjust="spacingAndGlyphs" >0</text>
<text x="433.5" y="834.0" font-size="10.8" fill="#2a2a2a" text-anchor="start" textLength="10.5" lengthAdjust="spacingAndGlyphs" >10</text>
<text x="445.0" y="829.0" font-size="9.4" fill="#2a2a2a" text-anchor="start" textLength="4.4" lengthAdjust="spacingAndGlyphs" >3</text>
<text x="460.7" y="834.0" font-size="10.8" fill="#2a2a2a" text-anchor="start" textLength="10.8" lengthAdjust="spacingAndGlyphs" >10</text>
<text x="472.4" y="829.0" font-size="9.4" fill="#2a2a2a" text-anchor="start" textLength="4.2" lengthAdjust="spacingAndGlyphs" >4</text>
<text x="481.3" y="834.0" font-size="10.8" fill="#2a2a2a" text-anchor="start" textLength="10.8" lengthAdjust="spacingAndGlyphs" >10</text>
<text x="492.6" y="829.0" font-size="9.4" fill="#2a2a2a" text-anchor="start" textLength="3.9" lengthAdjust="spacingAndGlyphs" >5</text>
<line x1="410.7" y1="849.0" x2="432.5" y2="849.0" stroke="#1c1c1c" stroke-width="1.3" />
<path d="M437.4,849.0 L431.4,846.5 L431.4,851.5 Z" fill="#1e1e1e"/>
<text x="440.2" y="852.3" font-size="11.2" fill="#2a2a2a" text-anchor="start" textLength="31.3" lengthAdjust="spacingAndGlyphs" >Ter119</text>
<line x1="376.5" y1="811.5" x2="376.5" y2="790.0" stroke="#1c1c1c" stroke-width="1.3" />
<path d="M376.5,784.6 L374.2,790.8 L378.8,790.8 Z" fill="#1e1e1e"/>
<text x="381.0" y="782.7" font-size="12.4" fill="#2a2a2a" textLength="23.6" lengthAdjust="spacingAndGlyphs" transform="rotate(-90 381.0 782.7)">CD71</text>
<rect x="0.5" y="0.5" width="519" height="920" fill="none" stroke="#262626" stroke-width="1.4"/>
</svg></div></body></html>
